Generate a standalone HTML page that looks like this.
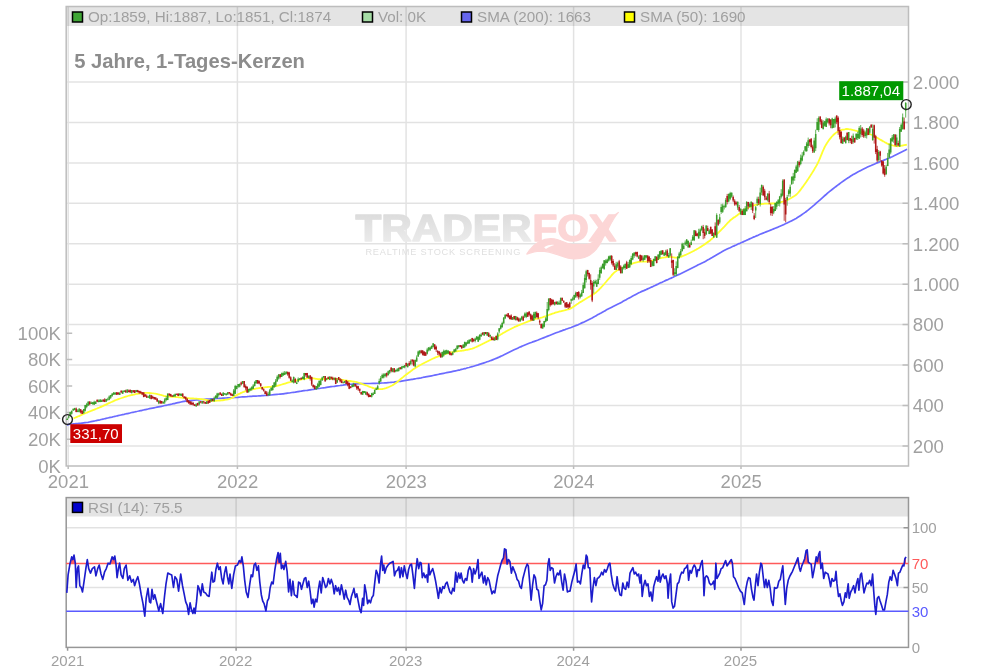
<!DOCTYPE html>
<html><head><meta charset="utf-8"><title>Chart</title>
<style>html,body{margin:0;padding:0;background:#fff;overflow:hidden}body{width:1002px;height:672px;font-family:"Liberation Sans",sans-serif}</style></head>
<body>
<svg width="1002" height="672" viewBox="0 0 1002 672" style="display:block;font-family:'Liberation Sans',sans-serif;filter:blur(0.3px)">
<rect width="1002" height="672" fill="#fff"/>
<rect x="66.2" y="6.5" width="842.3" height="19.5" fill="#e4e4e4"/>
<path d="M68.2,6.5 V466.0 M237.4,6.5 V466.0 M406.1,6.5 V466.0 M573.6,6.5 V466.0 M741.0,6.5 V466.0 M66.2,82.0 H908.5 M66.2,122.4 H908.5 M66.2,162.9 H908.5 M66.2,203.3 H908.5 M66.2,243.8 H908.5 M66.2,284.2 H908.5 M66.2,324.6 H908.5 M66.2,365.1 H908.5 M66.2,405.5 H908.5 M66.2,446.0 H908.5" stroke="#000" stroke-opacity="0.115" stroke-width="1.5" fill="none"/>
<defs><linearGradient id="wg" x1="0" y1="0" x2="0" y2="1"><stop offset="0" stop-color="#d9d9d9"/><stop offset="1" stop-color="#efefef"/></linearGradient></defs>
<g font-weight="bold">
<text x="355.5" y="241.3" font-size="37" textLength="176" lengthAdjust="spacingAndGlyphs" fill="url(#wg)" stroke="url(#wg)" stroke-width="1.4" stroke-linejoin="round">TRADER</text>
<text x="532.5" y="241.3" font-size="37" textLength="83.5" lengthAdjust="spacingAndGlyphs" fill="#fcd6d6" stroke="#fcd6d6" stroke-width="1.4" stroke-linejoin="round">FOX</text>
<g transform="translate(510,205) scale(0.11976)" fill="#fcd6d6" stroke="#fcd6d6" stroke-width="10" stroke-linejoin="round">
<path d="M140,410 C190,330 280,255 400,290 C440,302 470,325 520,328 L640,328 C690,325 730,290 770,230 L800,185 C830,130 860,85 905,62 C870,100 850,140 820,200 L780,270 C740,360 680,450 540,450 C440,450 380,385 250,385 C210,387 170,400 140,410 Z"/>
<path d="M285,352 C320,333 345,328 370,334 C345,343 320,352 300,368 Z" fill="#fff" stroke="none"/>
</g>
<text x="365.4" y="255.3" font-size="9.2" font-weight="normal" textLength="155" lengthAdjust="spacing" fill="#e0e0e0">REALTIME STOCK SCREENING</text>
</g>

<path d="M902.5,82.0 H908.5 M902.5,122.4 H908.5 M902.5,162.9 H908.5 M902.5,203.3 H908.5 M902.5,243.8 H908.5 M902.5,284.2 H908.5 M902.5,324.6 H908.5 M902.5,365.1 H908.5 M902.5,405.5 H908.5 M902.5,446.0 H908.5 M66.2,333.2 H72.2 M66.2,359.6 H72.2 M66.2,386.0 H72.2 M66.2,412.5 H72.2 M66.2,439.2 H72.2 M68.2,466.0 V469.0 M237.4,466.0 V469.0 M406.1,466.0 V469.0 M573.6,466.0 V469.0 M741.0,466.0 V469.0" stroke="#bdbdbd" stroke-width="1.5" fill="none"/>
<rect x="66.2" y="6.5" width="842.3" height="459.5" fill="none" stroke="#bdbdbd" stroke-width="1.5"/>
<path d="M67.0,425.1 C67.5,424.9 69.0,424.3 70.0,424.1 C71.0,423.9 72.0,423.9 73.0,423.9 C74.0,423.8 75.0,423.7 76.0,423.6 C77.0,423.5 78.0,423.5 79.0,423.4 C80.0,423.3 81.0,423.2 82.0,423.1 C83.0,423.0 84.0,422.9 85.0,422.7 C86.0,422.6 87.0,422.4 88.0,422.3 C89.0,422.1 90.0,421.9 91.0,421.7 C92.0,421.5 93.0,421.3 94.0,421.1 C95.0,420.9 96.0,420.6 97.0,420.4 C98.0,420.2 99.0,420.0 100.0,419.8 C101.0,419.5 102.0,419.3 103.0,419.1 C104.0,418.9 105.0,418.6 106.0,418.4 C107.0,418.2 108.0,418.0 109.0,417.7 C110.0,417.5 111.0,417.3 112.0,417.1 C113.0,416.8 114.0,416.6 115.0,416.4 C116.0,416.2 117.0,415.9 118.0,415.7 C119.0,415.5 120.0,415.3 121.0,415.0 C122.0,414.8 123.0,414.6 124.0,414.4 C125.0,414.1 126.0,413.9 127.0,413.7 C128.0,413.5 129.0,413.2 130.0,413.0 C131.0,412.8 132.0,412.6 133.0,412.3 C134.0,412.1 135.0,411.9 136.0,411.7 C137.0,411.4 138.0,411.2 139.0,411.0 C140.0,410.8 141.0,410.5 142.0,410.3 C143.0,410.1 144.0,409.9 145.0,409.7 C146.0,409.5 147.0,409.2 148.0,409.0 C149.0,408.8 150.0,408.6 151.0,408.4 C152.0,408.2 153.0,408.0 154.0,407.8 C155.0,407.6 156.0,407.4 157.0,407.2 C158.0,407.0 159.0,406.8 160.0,406.6 C161.0,406.4 162.0,406.2 163.0,406.0 C164.0,405.8 165.0,405.6 166.0,405.3 C167.0,405.1 168.0,404.9 169.0,404.7 C170.0,404.5 171.0,404.2 172.0,404.0 C173.0,403.8 174.0,403.5 175.0,403.3 C176.0,403.1 177.0,402.9 178.0,402.6 C179.0,402.4 180.0,402.2 181.0,402.0 C182.0,401.8 183.0,401.6 184.0,401.4 C185.0,401.3 186.0,401.1 187.0,401.0 C188.0,400.8 189.0,400.7 190.0,400.6 C191.0,400.5 192.0,400.4 193.0,400.3 C194.0,400.2 195.0,400.1 196.0,400.0 C197.0,399.9 198.0,399.9 199.0,399.8 C200.0,399.7 201.0,399.6 202.0,399.5 C203.0,399.5 204.0,399.4 205.0,399.3 C206.0,399.2 207.0,399.2 208.0,399.1 C209.0,399.0 210.0,399.0 211.0,398.9 C212.0,398.8 213.0,398.7 214.0,398.7 C215.0,398.6 216.0,398.5 217.0,398.5 C218.0,398.4 219.0,398.4 220.0,398.3 C221.0,398.3 222.0,398.2 223.0,398.1 C224.0,398.1 225.0,398.1 226.0,398.0 C227.0,398.0 228.0,397.9 229.0,397.9 C230.0,397.8 231.0,397.7 232.0,397.7 C233.0,397.6 234.0,397.5 235.0,397.5 C236.0,397.4 237.0,397.3 238.0,397.3 C239.0,397.2 240.0,397.1 241.0,397.0 C242.0,396.9 243.0,396.9 244.0,396.8 C245.0,396.7 246.0,396.6 247.0,396.6 C248.0,396.5 249.0,396.5 250.0,396.4 C251.0,396.3 252.0,396.3 253.0,396.2 C254.0,396.2 255.0,396.1 256.0,396.1 C257.0,396.0 258.0,396.0 259.0,395.9 C260.0,395.8 261.0,395.8 262.0,395.7 C263.0,395.7 264.0,395.6 265.0,395.5 C266.0,395.5 267.0,395.4 268.0,395.3 C269.0,395.2 270.0,395.1 271.0,395.0 C272.0,394.9 273.0,394.8 274.0,394.7 C275.0,394.6 276.0,394.5 277.0,394.4 C278.0,394.3 279.0,394.2 280.0,394.1 C281.0,394.0 282.0,393.9 283.0,393.8 C284.0,393.7 285.0,393.5 286.0,393.4 C287.0,393.3 288.0,393.1 289.0,393.0 C290.0,392.8 291.0,392.7 292.0,392.5 C293.0,392.4 294.0,392.2 295.0,392.1 C296.0,391.9 297.0,391.8 298.0,391.6 C299.0,391.5 300.0,391.3 301.0,391.2 C302.0,391.0 303.0,390.9 304.0,390.7 C305.0,390.6 306.0,390.4 307.0,390.3 C308.0,390.1 309.0,390.0 310.0,389.8 C311.0,389.7 312.0,389.5 313.0,389.4 C314.0,389.2 315.0,389.1 316.0,388.9 C317.0,388.8 318.0,388.6 319.0,388.5 C320.0,388.3 321.0,388.2 322.0,388.0 C323.0,387.9 324.0,387.7 325.0,387.6 C326.0,387.4 327.0,387.3 328.0,387.1 C329.0,387.0 330.0,386.9 331.0,386.7 C332.0,386.6 333.0,386.4 334.0,386.3 C335.0,386.1 336.0,386.0 337.0,385.8 C338.0,385.7 339.0,385.6 340.0,385.5 C341.0,385.3 342.0,385.2 343.0,385.1 C344.0,384.9 345.0,384.8 346.0,384.7 C347.0,384.6 348.0,384.5 349.0,384.4 C350.0,384.3 351.0,384.1 352.0,384.1 C353.0,384.0 354.0,383.9 355.0,383.8 C356.0,383.7 357.0,383.7 358.0,383.7 C359.0,383.6 360.0,383.6 361.0,383.6 C362.0,383.6 363.0,383.5 364.0,383.5 C365.0,383.5 366.0,383.5 367.0,383.5 C368.0,383.5 369.0,383.5 370.0,383.5 C371.0,383.5 372.0,383.5 373.0,383.4 C374.0,383.4 375.0,383.4 376.0,383.3 C377.0,383.3 378.0,383.2 379.0,383.2 C380.0,383.1 381.0,383.1 382.0,383.0 C383.0,383.0 384.0,382.9 385.0,382.8 C386.0,382.8 387.0,382.7 388.0,382.6 C389.0,382.5 390.0,382.5 391.0,382.4 C392.0,382.3 393.0,382.2 394.0,382.1 C395.0,381.9 396.0,381.8 397.0,381.7 C398.0,381.6 399.0,381.4 400.0,381.3 C401.0,381.1 402.0,381.0 403.0,380.8 C404.0,380.7 405.0,380.5 406.0,380.3 C407.0,380.2 408.0,380.0 409.0,379.8 C410.0,379.7 411.0,379.5 412.0,379.3 C413.0,379.1 414.0,379.0 415.0,378.8 C416.0,378.6 417.0,378.5 418.1,378.3 C419.1,378.1 420.1,377.9 421.1,377.8 C422.1,377.6 423.1,377.4 424.1,377.2 C425.1,377.0 426.1,376.9 427.1,376.7 C428.1,376.5 429.1,376.3 430.1,376.1 C431.1,375.9 432.1,375.7 433.1,375.5 C434.1,375.3 435.1,375.1 436.1,374.9 C437.1,374.7 438.1,374.5 439.1,374.2 C440.1,374.0 441.1,373.8 442.1,373.6 C443.1,373.4 444.1,373.2 445.1,373.0 C446.1,372.8 447.1,372.6 448.1,372.4 C449.1,372.2 450.1,372.0 451.1,371.8 C452.1,371.6 453.1,371.4 454.1,371.1 C455.1,370.9 456.1,370.7 457.1,370.5 C458.1,370.3 459.1,370.0 460.1,369.8 C461.1,369.5 462.1,369.3 463.1,369.0 C464.1,368.8 465.1,368.5 466.1,368.3 C467.1,368.0 468.1,367.7 469.1,367.5 C470.1,367.2 471.1,366.9 472.1,366.6 C473.1,366.3 474.1,366.1 475.1,365.8 C476.1,365.5 477.1,365.2 478.1,364.9 C479.1,364.5 480.1,364.2 481.1,363.9 C482.1,363.6 483.1,363.2 484.1,362.9 C485.1,362.6 486.1,362.2 487.1,361.8 C488.1,361.5 489.1,361.1 490.1,360.7 C491.1,360.4 492.1,360.0 493.1,359.6 C494.1,359.2 495.1,358.8 496.1,358.4 C497.1,357.9 498.1,357.5 499.1,357.1 C500.1,356.6 501.1,356.2 502.1,355.7 C503.1,355.2 504.1,354.8 505.1,354.3 C506.1,353.8 507.1,353.3 508.1,352.8 C509.1,352.3 510.1,351.8 511.1,351.3 C512.1,350.8 513.1,350.3 514.1,349.8 C515.1,349.4 516.1,348.9 517.1,348.4 C518.1,347.9 519.1,347.5 520.1,347.0 C521.1,346.6 522.1,346.1 523.1,345.7 C524.1,345.3 525.1,344.9 526.1,344.5 C527.1,344.1 528.1,343.7 529.1,343.3 C530.1,342.9 531.1,342.6 532.1,342.2 C533.1,341.8 534.1,341.5 535.1,341.1 C536.1,340.7 537.1,340.3 538.1,340.0 C539.1,339.6 540.1,339.2 541.1,338.8 C542.1,338.4 543.1,338.0 544.1,337.6 C545.1,337.2 546.1,336.8 547.1,336.4 C548.1,336.0 549.1,335.6 550.1,335.2 C551.1,334.8 552.1,334.4 553.1,334.0 C554.1,333.6 555.1,333.2 556.1,332.8 C557.1,332.4 558.1,332.0 559.1,331.7 C560.1,331.3 561.1,330.9 562.1,330.6 C563.1,330.2 564.1,329.9 565.1,329.6 C566.1,329.2 567.1,328.9 568.1,328.5 C569.1,328.2 570.1,327.8 571.1,327.5 C572.1,327.1 573.1,326.7 574.1,326.3 C575.1,325.9 576.1,325.5 577.1,325.1 C578.1,324.7 579.1,324.2 580.1,323.8 C581.1,323.3 582.1,322.8 583.1,322.4 C584.1,321.9 585.1,321.4 586.1,320.9 C587.1,320.4 588.1,319.9 589.1,319.4 C590.1,318.9 591.1,318.4 592.1,317.9 C593.1,317.3 594.1,316.8 595.1,316.3 C596.1,315.7 597.1,315.2 598.1,314.6 C599.1,314.1 600.1,313.5 601.1,313.0 C602.1,312.4 603.1,311.8 604.1,311.3 C605.1,310.7 606.1,310.2 607.1,309.6 C608.1,309.1 609.1,308.6 610.1,308.1 C611.1,307.5 612.1,307.0 613.1,306.5 C614.1,306.0 615.1,305.5 616.1,305.0 C617.1,304.5 618.1,304.0 619.1,303.5 C620.1,302.9 621.1,302.4 622.1,301.9 C623.1,301.3 624.1,300.8 625.1,300.2 C626.1,299.7 627.1,299.1 628.1,298.6 C629.1,298.0 630.1,297.4 631.1,296.9 C632.1,296.3 633.1,295.8 634.1,295.3 C635.1,294.7 636.1,294.2 637.1,293.7 C638.1,293.2 639.1,292.7 640.1,292.3 C641.1,291.8 642.1,291.3 643.1,290.9 C644.1,290.4 645.1,290.0 646.1,289.6 C647.1,289.1 648.1,288.7 649.1,288.2 C650.1,287.8 651.1,287.3 652.1,286.9 C653.1,286.4 654.1,285.9 655.1,285.5 C656.1,285.0 657.1,284.5 658.1,284.1 C659.1,283.6 660.1,283.1 661.1,282.6 C662.1,282.2 663.1,281.7 664.1,281.3 C665.1,280.8 666.1,280.3 667.1,279.9 C668.1,279.4 669.1,279.0 670.1,278.5 C671.1,278.1 672.1,277.6 673.1,277.2 C674.1,276.7 675.1,276.2 676.1,275.8 C677.1,275.3 678.1,274.8 679.1,274.4 C680.1,273.9 681.1,273.4 682.1,272.9 C683.1,272.4 684.1,271.9 685.1,271.4 C686.1,270.9 687.1,270.4 688.1,269.9 C689.1,269.4 690.1,268.9 691.1,268.4 C692.1,267.9 693.1,267.4 694.1,266.9 C695.1,266.4 696.1,265.9 697.1,265.4 C698.1,265.0 699.1,264.5 700.1,264.0 C701.1,263.5 702.1,263.0 703.1,262.5 C704.1,261.9 705.1,261.4 706.1,260.9 C707.1,260.4 708.1,259.8 709.1,259.3 C710.1,258.7 711.1,258.1 712.1,257.5 C713.1,256.9 714.1,256.3 715.1,255.7 C716.1,255.1 717.1,254.5 718.1,253.9 C719.1,253.3 720.1,252.7 721.1,252.2 C722.1,251.6 723.1,251.1 724.1,250.6 C725.1,250.1 726.1,249.6 727.1,249.1 C728.1,248.6 729.1,248.1 730.1,247.7 C731.1,247.2 732.1,246.8 733.1,246.3 C734.1,245.9 735.1,245.4 736.1,245.0 C737.1,244.5 738.1,244.1 739.1,243.6 C740.1,243.2 741.1,242.7 742.1,242.3 C743.1,241.8 744.1,241.4 745.1,240.9 C746.1,240.5 747.1,240.0 748.1,239.6 C749.1,239.1 750.1,238.7 751.1,238.2 C752.1,237.8 753.1,237.3 754.1,236.9 C755.1,236.5 756.1,236.0 757.1,235.6 C758.1,235.2 759.1,234.7 760.1,234.3 C761.1,233.9 762.1,233.5 763.1,233.1 C764.1,232.7 765.1,232.3 766.1,231.9 C767.1,231.5 768.1,231.1 769.1,230.7 C770.1,230.3 771.1,229.9 772.1,229.5 C773.1,229.1 774.1,228.7 775.1,228.3 C776.1,227.9 777.1,227.5 778.1,227.1 C779.1,226.6 780.1,226.2 781.1,225.8 C782.1,225.4 783.1,225.0 784.1,224.5 C785.1,224.1 786.1,223.6 787.1,223.1 C788.1,222.6 789.1,222.1 790.1,221.6 C791.1,221.1 792.1,220.6 793.1,220.0 C794.1,219.5 795.1,218.9 796.1,218.4 C797.1,217.8 798.1,217.2 799.1,216.5 C800.1,215.9 801.1,215.2 802.1,214.5 C803.1,213.9 804.1,213.1 805.1,212.4 C806.1,211.6 807.1,210.9 808.1,210.1 C809.1,209.3 810.1,208.5 811.1,207.6 C812.1,206.8 813.1,205.9 814.1,205.1 C815.1,204.2 816.1,203.3 817.1,202.4 C818.1,201.5 819.1,200.7 820.1,199.8 C821.1,198.9 822.1,198.0 823.1,197.1 C824.1,196.2 825.1,195.3 826.1,194.5 C827.1,193.6 828.1,192.7 829.1,191.9 C830.1,191.1 831.1,190.3 832.1,189.5 C833.1,188.7 834.1,187.9 835.1,187.1 C836.1,186.3 837.1,185.6 838.1,184.8 C839.1,184.1 840.1,183.3 841.1,182.6 C842.1,181.9 843.1,181.2 844.1,180.5 C845.1,179.8 846.1,179.1 847.1,178.4 C848.1,177.8 849.1,177.1 850.1,176.5 C851.1,175.9 852.1,175.2 853.1,174.6 C854.1,174.1 855.1,173.5 856.1,172.9 C857.1,172.3 858.1,171.8 859.1,171.3 C860.1,170.7 861.1,170.2 862.1,169.7 C863.1,169.2 864.1,168.7 865.1,168.2 C866.1,167.7 867.1,167.3 868.1,166.8 C869.1,166.3 870.1,165.9 871.1,165.5 C872.1,165.0 873.1,164.6 874.1,164.2 C875.1,163.8 876.1,163.3 877.1,162.9 C878.1,162.5 879.1,162.1 880.1,161.7 C881.1,161.3 882.1,160.9 883.1,160.5 C884.1,160.1 885.1,159.7 886.1,159.3 C887.1,158.8 888.1,158.4 889.1,158.0 C890.1,157.6 891.1,157.1 892.1,156.7 C893.1,156.2 894.1,155.8 895.1,155.3 C896.1,154.8 897.1,154.3 898.1,153.8 C899.1,153.4 900.1,152.9 901.1,152.3 C902.1,151.8 903.1,151.3 904.1,150.8 C905.1,150.3 906.6,149.5 907.1,149.3" stroke="#6b6bff" stroke-width="1.7" fill="none" stroke-linejoin="round"/>
<path d="M73.5,418.4 C73.8,418.3 74.8,417.8 75.5,417.5 C76.2,417.2 76.8,417.0 77.5,416.7 C78.2,416.4 78.8,416.1 79.5,415.8 C80.2,415.5 80.8,415.2 81.5,414.9 C82.2,414.6 82.8,414.3 83.5,414.0 C84.2,413.7 84.8,413.4 85.5,413.2 C86.2,412.9 86.8,412.6 87.5,412.3 C88.2,412.0 88.8,411.8 89.5,411.5 C90.2,411.2 90.9,411.0 91.5,410.7 C92.2,410.4 92.9,410.2 93.5,409.9 C94.2,409.6 94.9,409.4 95.5,409.1 C96.2,408.8 96.9,408.6 97.5,408.3 C98.2,408.0 98.9,407.8 99.5,407.5 C100.2,407.2 100.9,406.9 101.5,406.6 C102.2,406.3 102.9,406.0 103.5,405.7 C104.2,405.4 104.9,405.1 105.5,404.8 C106.2,404.5 106.9,404.2 107.5,403.9 C108.2,403.5 108.9,403.2 109.6,402.9 C110.2,402.6 110.9,402.3 111.6,402.0 C112.2,401.7 112.9,401.4 113.6,401.1 C114.2,400.8 114.9,400.5 115.6,400.2 C116.2,399.9 116.9,399.7 117.6,399.4 C118.2,399.2 118.9,398.9 119.6,398.7 C120.2,398.4 120.9,398.2 121.6,398.0 C122.2,397.7 122.9,397.5 123.6,397.3 C124.2,397.1 124.9,396.9 125.6,396.6 C126.2,396.4 126.9,396.3 127.6,396.1 C128.2,395.9 128.9,395.7 129.6,395.5 C130.3,395.4 130.9,395.2 131.6,395.0 C132.3,394.9 132.9,394.7 133.6,394.6 C134.3,394.4 134.9,394.3 135.6,394.1 C136.3,394.0 136.9,393.9 137.6,393.8 C138.3,393.7 138.9,393.6 139.6,393.5 C140.3,393.4 140.9,393.4 141.6,393.3 C142.3,393.2 142.9,393.1 143.6,393.1 C144.3,393.0 144.9,393.0 145.6,392.9 C146.3,392.9 146.9,392.9 147.6,392.9 C148.3,393.0 148.9,393.0 149.6,393.0 C150.3,393.1 151.0,393.1 151.6,393.2 C152.3,393.2 153.0,393.3 153.6,393.4 C154.3,393.4 155.0,393.5 155.6,393.6 C156.3,393.7 157.0,393.9 157.6,394.1 C158.3,394.2 159.0,394.4 159.6,394.6 C160.3,394.8 161.0,395.0 161.6,395.2 C162.3,395.4 163.0,395.6 163.6,395.8 C164.3,395.9 165.0,396.1 165.6,396.2 C166.3,396.4 167.0,396.4 167.6,396.5 C168.3,396.6 169.0,396.6 169.7,396.7 C170.3,396.7 171.0,396.7 171.7,396.8 C172.3,396.8 173.0,396.9 173.7,396.9 C174.3,396.9 175.0,397.0 175.7,397.0 C176.3,397.1 177.0,397.1 177.7,397.2 C178.3,397.3 179.0,397.3 179.7,397.4 C180.3,397.5 181.0,397.6 181.7,397.6 C182.3,397.7 183.0,397.8 183.7,397.9 C184.3,397.9 185.0,398.0 185.7,398.1 C186.3,398.1 187.0,398.2 187.7,398.2 C188.3,398.2 189.0,398.3 189.7,398.3 C190.4,398.3 191.0,398.4 191.7,398.4 C192.4,398.4 193.0,398.4 193.7,398.5 C194.4,398.5 195.0,398.6 195.7,398.6 C196.4,398.7 197.0,398.7 197.7,398.8 C198.4,398.9 199.0,398.9 199.7,399.0 C200.4,399.1 201.0,399.1 201.7,399.2 C202.4,399.3 203.0,399.4 203.7,399.5 C204.4,399.6 205.0,399.7 205.7,399.8 C206.4,399.9 207.0,400.1 207.7,400.2 C208.4,400.3 209.0,400.5 209.7,400.6 C210.4,400.7 211.1,400.8 211.7,400.8 C212.4,400.9 213.1,400.9 213.7,400.9 C214.4,400.9 215.1,400.9 215.7,400.9 C216.4,400.8 217.1,400.7 217.7,400.7 C218.4,400.6 219.1,400.6 219.7,400.5 C220.4,400.4 221.1,400.3 221.7,400.3 C222.4,400.2 223.1,400.1 223.7,400.0 C224.4,399.9 225.1,399.8 225.7,399.7 C226.4,399.6 227.1,399.5 227.7,399.4 C228.4,399.2 229.1,399.1 229.8,398.9 C230.4,398.6 231.1,398.3 231.8,398.0 C232.4,397.7 233.1,397.3 233.8,396.9 C234.4,396.5 235.1,396.1 235.8,395.7 C236.4,395.3 237.1,394.9 237.8,394.6 C238.4,394.2 239.1,393.9 239.8,393.6 C240.4,393.3 241.1,393.0 241.8,392.7 C242.4,392.4 243.1,392.1 243.8,391.9 C244.4,391.6 245.1,391.3 245.8,391.1 C246.4,390.8 247.1,390.6 247.8,390.4 C248.4,390.2 249.1,390.0 249.8,389.9 C250.5,389.7 251.1,389.6 251.8,389.4 C252.5,389.3 253.1,389.1 253.8,389.0 C254.5,388.9 255.1,388.8 255.8,388.6 C256.5,388.5 257.1,388.4 257.8,388.3 C258.5,388.2 259.1,388.1 259.8,388.0 C260.5,387.9 261.1,387.8 261.8,387.7 C262.5,387.6 263.1,387.5 263.8,387.4 C264.5,387.3 265.1,387.3 265.8,387.2 C266.5,387.1 267.1,387.1 267.8,387.0 C268.5,387.0 269.1,386.9 269.8,386.9 C270.5,386.8 271.2,386.8 271.8,386.7 C272.5,386.7 273.2,386.6 273.8,386.5 C274.5,386.4 275.2,386.3 275.8,386.2 C276.5,386.0 277.2,385.9 277.8,385.7 C278.5,385.5 279.2,385.3 279.8,385.1 C280.5,384.9 281.2,384.7 281.8,384.5 C282.5,384.3 283.2,384.1 283.8,383.9 C284.5,383.7 285.2,383.5 285.8,383.3 C286.5,383.1 287.2,382.9 287.8,382.7 C288.5,382.5 289.2,382.3 289.9,382.1 C290.5,381.9 291.2,381.7 291.9,381.5 C292.5,381.4 293.2,381.2 293.9,381.0 C294.5,380.9 295.2,380.7 295.9,380.6 C296.5,380.5 297.2,380.3 297.9,380.2 C298.5,380.1 299.2,379.9 299.9,379.8 C300.5,379.7 301.2,379.5 301.9,379.4 C302.5,379.3 303.2,379.1 303.9,379.0 C304.5,378.9 305.2,378.7 305.9,378.6 C306.5,378.5 307.2,378.3 307.9,378.2 C308.5,378.1 309.2,378.0 309.9,378.0 C310.6,378.0 311.2,378.0 311.9,378.1 C312.6,378.1 313.2,378.3 313.9,378.4 C314.6,378.5 315.2,378.7 315.9,378.8 C316.6,378.9 317.2,379.1 317.9,379.1 C318.6,379.2 319.2,379.2 319.9,379.2 C320.6,379.2 321.2,379.1 321.9,379.1 C322.6,379.0 323.2,379.0 323.9,378.9 C324.6,378.9 325.2,378.8 325.9,378.8 C326.6,378.7 327.2,378.7 327.9,378.6 C328.6,378.6 329.2,378.6 329.9,378.6 C330.6,378.6 331.3,378.6 331.9,378.6 C332.6,378.7 333.3,378.7 333.9,378.7 C334.6,378.7 335.3,378.8 335.9,378.8 C336.6,378.9 337.3,378.9 337.9,379.0 C338.6,379.1 339.3,379.2 339.9,379.3 C340.6,379.4 341.3,379.6 341.9,379.7 C342.6,379.8 343.3,380.0 343.9,380.1 C344.6,380.2 345.3,380.3 345.9,380.5 C346.6,380.6 347.3,380.7 347.9,380.8 C348.6,380.9 349.3,380.9 350.0,381.0 C350.6,381.1 351.3,381.2 352.0,381.3 C352.6,381.4 353.3,381.5 354.0,381.6 C354.6,381.7 355.3,381.8 356.0,382.0 C356.6,382.1 357.3,382.3 358.0,382.5 C358.6,382.7 359.3,383.0 360.0,383.2 C360.6,383.4 361.3,383.6 362.0,383.9 C362.6,384.1 363.3,384.3 364.0,384.6 C364.6,384.8 365.3,385.1 366.0,385.3 C366.6,385.6 367.3,385.8 368.0,386.1 C368.6,386.4 369.3,386.6 370.0,386.9 C370.7,387.1 371.3,387.4 372.0,387.6 C372.7,387.9 373.3,388.1 374.0,388.3 C374.7,388.5 375.3,388.6 376.0,388.7 C376.7,388.9 377.3,389.0 378.0,389.1 C378.7,389.2 379.3,389.2 380.0,389.2 C380.7,389.2 381.3,389.2 382.0,389.1 C382.7,389.0 383.3,388.8 384.0,388.7 C384.7,388.5 385.3,388.3 386.0,388.1 C386.7,387.8 387.3,387.6 388.0,387.3 C388.7,387.1 389.4,386.8 390.0,386.5 C390.7,386.2 391.4,385.8 392.0,385.5 C392.7,385.1 393.4,384.8 394.0,384.3 C394.7,383.9 395.4,383.5 396.0,383.0 C396.7,382.5 397.4,381.9 398.0,381.3 C398.7,380.8 399.4,380.2 400.0,379.6 C400.7,379.1 401.4,378.5 402.0,378.0 C402.7,377.4 403.4,376.9 404.0,376.3 C404.7,375.8 405.4,375.3 406.0,374.7 C406.7,374.2 407.4,373.7 408.0,373.2 C408.7,372.7 409.4,372.2 410.1,371.7 C410.7,371.2 411.4,370.7 412.1,370.2 C412.7,369.8 413.4,369.3 414.1,368.8 C414.7,368.4 415.4,367.9 416.1,367.5 C416.7,367.0 417.4,366.6 418.1,366.2 C418.7,365.8 419.4,365.4 420.1,365.1 C420.7,364.7 421.4,364.4 422.1,364.0 C422.7,363.7 423.4,363.4 424.1,363.0 C424.7,362.7 425.4,362.4 426.1,362.0 C426.7,361.7 427.4,361.4 428.1,361.0 C428.7,360.7 429.4,360.4 430.1,360.0 C430.8,359.7 431.4,359.4 432.1,359.0 C432.8,358.7 433.4,358.4 434.1,358.1 C434.8,357.8 435.4,357.5 436.1,357.2 C436.8,356.9 437.4,356.7 438.1,356.4 C438.8,356.2 439.4,355.9 440.1,355.7 C440.8,355.5 441.4,355.3 442.1,355.0 C442.8,354.8 443.4,354.6 444.1,354.4 C444.8,354.2 445.4,354.0 446.1,353.8 C446.8,353.6 447.4,353.4 448.1,353.2 C448.8,353.1 449.5,352.9 450.1,352.7 C450.8,352.5 451.5,352.4 452.1,352.2 C452.8,352.1 453.5,351.9 454.1,351.8 C454.8,351.7 455.5,351.5 456.1,351.4 C456.8,351.3 457.5,351.2 458.1,351.1 C458.8,351.0 459.5,350.9 460.1,350.9 C460.8,350.8 461.5,350.7 462.1,350.6 C462.8,350.5 463.5,350.4 464.1,350.3 C464.8,350.2 465.5,350.1 466.1,349.9 C466.8,349.8 467.5,349.7 468.1,349.6 C468.8,349.5 469.5,349.4 470.2,349.2 C470.8,349.1 471.5,348.9 472.2,348.7 C472.8,348.5 473.5,348.2 474.2,347.9 C474.8,347.6 475.5,347.3 476.2,347.0 C476.8,346.7 477.5,346.4 478.2,346.1 C478.8,345.7 479.5,345.4 480.2,345.1 C480.8,344.8 481.5,344.4 482.2,344.1 C482.8,343.8 483.5,343.4 484.2,343.1 C484.8,342.8 485.5,342.4 486.2,342.1 C486.8,341.8 487.5,341.4 488.2,341.1 C488.8,340.8 489.5,340.4 490.2,340.1 C490.9,339.8 491.5,339.4 492.2,339.1 C492.9,338.8 493.5,338.4 494.2,338.1 C494.9,337.8 495.5,337.4 496.2,337.1 C496.9,336.7 497.5,336.4 498.2,336.0 C498.9,335.6 499.5,335.2 500.2,334.9 C500.9,334.5 501.5,334.1 502.2,333.7 C502.9,333.3 503.5,332.9 504.2,332.5 C504.9,332.1 505.5,331.7 506.2,331.3 C506.9,331.0 507.5,330.6 508.2,330.2 C508.9,329.9 509.6,329.5 510.2,329.2 C510.9,328.9 511.6,328.5 512.2,328.2 C512.9,327.9 513.6,327.5 514.2,327.2 C514.9,326.9 515.6,326.6 516.2,326.3 C516.9,326.0 517.6,325.7 518.2,325.4 C518.9,325.2 519.6,324.9 520.2,324.6 C520.9,324.4 521.6,324.1 522.2,323.8 C522.9,323.6 523.6,323.3 524.2,323.0 C524.9,322.8 525.6,322.5 526.2,322.2 C526.9,321.9 527.6,321.7 528.2,321.4 C528.9,321.2 529.6,320.9 530.3,320.6 C530.9,320.4 531.6,320.1 532.3,319.9 C532.9,319.6 533.6,319.4 534.3,319.2 C534.9,319.0 535.6,318.9 536.3,318.7 C536.9,318.6 537.6,318.4 538.3,318.3 C538.9,318.1 539.6,318.0 540.3,317.9 C540.9,317.7 541.6,317.5 542.3,317.4 C542.9,317.2 543.6,317.0 544.3,316.7 C544.9,316.5 545.6,316.2 546.3,316.0 C546.9,315.7 547.6,315.5 548.3,315.2 C548.9,314.9 549.6,314.7 550.3,314.4 C551.0,314.2 551.6,313.9 552.3,313.7 C553.0,313.5 553.6,313.3 554.3,313.1 C555.0,312.8 555.6,312.6 556.3,312.4 C557.0,312.2 557.6,312.0 558.3,311.8 C559.0,311.7 559.6,311.5 560.3,311.3 C561.0,311.1 561.6,311.0 562.3,310.8 C563.0,310.7 563.6,310.5 564.3,310.4 C565.0,310.2 565.6,310.1 566.3,309.9 C567.0,309.8 567.6,309.6 568.3,309.4 C569.0,309.2 569.7,308.9 570.3,308.6 C571.0,308.3 571.7,307.9 572.3,307.5 C573.0,307.0 573.7,306.6 574.3,306.1 C575.0,305.7 575.7,305.2 576.3,304.7 C577.0,304.3 577.7,303.8 578.3,303.4 C579.0,302.9 579.7,302.5 580.3,302.1 C581.0,301.7 581.7,301.3 582.3,300.9 C583.0,300.5 583.7,300.1 584.3,299.7 C585.0,299.3 585.7,298.9 586.3,298.5 C587.0,298.1 587.7,297.7 588.3,297.3 C589.0,296.9 589.7,296.5 590.4,296.1 C591.0,295.7 591.7,295.3 592.4,294.8 C593.0,294.4 593.7,294.0 594.4,293.6 C595.0,293.1 595.7,292.7 596.4,292.1 C597.0,291.6 597.7,290.9 598.4,290.3 C599.0,289.6 599.7,288.9 600.4,288.2 C601.0,287.5 601.7,286.8 602.4,286.0 C603.0,285.3 603.7,284.5 604.4,283.8 C605.0,283.0 605.7,282.3 606.4,281.5 C607.0,280.7 607.7,279.9 608.4,279.1 C609.0,278.4 609.7,277.5 610.4,276.8 C611.1,276.0 611.7,275.2 612.4,274.5 C613.1,273.7 613.7,273.0 614.4,272.4 C615.1,271.9 615.7,271.4 616.4,270.9 C617.1,270.5 617.7,270.1 618.4,269.7 C619.1,269.4 619.7,269.1 620.4,268.7 C621.1,268.4 621.7,268.1 622.4,267.7 C623.1,267.4 623.7,267.1 624.4,266.8 C625.1,266.5 625.7,266.3 626.4,266.0 C627.1,265.7 627.7,265.4 628.4,265.2 C629.1,264.9 629.8,264.6 630.4,264.4 C631.1,264.1 631.8,263.9 632.4,263.6 C633.1,263.4 633.8,263.1 634.4,262.9 C635.1,262.7 635.8,262.5 636.4,262.3 C637.1,262.2 637.8,262.0 638.4,261.9 C639.1,261.8 639.8,261.8 640.4,261.7 C641.1,261.7 641.8,261.7 642.4,261.7 C643.1,261.7 643.8,261.6 644.4,261.6 C645.1,261.6 645.8,261.5 646.4,261.5 C647.1,261.4 647.8,261.3 648.4,261.3 C649.1,261.2 649.8,261.1 650.5,261.0 C651.1,260.9 651.8,260.7 652.5,260.6 C653.1,260.4 653.8,260.2 654.5,260.0 C655.1,259.8 655.8,259.5 656.5,259.3 C657.1,259.1 657.8,258.8 658.5,258.6 C659.1,258.4 659.8,258.2 660.5,258.1 C661.1,257.9 661.8,257.8 662.5,257.6 C663.1,257.5 663.8,257.4 664.5,257.3 C665.1,257.2 665.8,257.1 666.5,257.0 C667.1,256.9 667.8,256.9 668.5,256.9 C669.2,256.9 669.8,256.9 670.5,256.9 C671.2,257.0 671.8,257.1 672.5,257.2 C673.2,257.3 673.8,257.4 674.5,257.5 C675.2,257.5 675.8,257.6 676.5,257.6 C677.2,257.6 677.8,257.5 678.5,257.4 C679.2,257.3 679.8,257.1 680.5,256.9 C681.2,256.7 681.8,256.4 682.5,256.1 C683.2,255.9 683.8,255.6 684.5,255.3 C685.2,255.0 685.8,254.8 686.5,254.5 C687.2,254.2 687.8,253.8 688.5,253.5 C689.2,253.2 689.9,252.9 690.5,252.5 C691.2,252.2 691.9,251.9 692.5,251.5 C693.2,251.2 693.9,250.9 694.5,250.5 C695.2,250.1 695.9,249.8 696.5,249.4 C697.2,249.0 697.9,248.6 698.5,248.3 C699.2,247.9 699.9,247.5 700.5,247.1 C701.2,246.7 701.9,246.3 702.5,245.8 C703.2,245.4 703.9,245.0 704.5,244.5 C705.2,244.0 705.9,243.5 706.5,243.0 C707.2,242.5 707.9,242.0 708.5,241.5 C709.2,240.9 709.9,240.4 710.6,239.9 C711.2,239.3 711.9,238.8 712.6,238.2 C713.2,237.6 713.9,237.0 714.6,236.4 C715.2,235.8 715.9,235.1 716.6,234.5 C717.2,233.8 717.9,233.2 718.6,232.5 C719.2,231.8 719.9,231.2 720.6,230.5 C721.2,229.8 721.9,229.1 722.6,228.4 C723.2,227.7 723.9,227.0 724.6,226.3 C725.2,225.6 725.9,224.8 726.6,224.1 C727.2,223.4 727.9,222.6 728.6,222.0 C729.3,221.3 729.9,220.6 730.6,220.0 C731.3,219.4 731.9,218.9 732.6,218.4 C733.3,217.9 733.9,217.5 734.6,217.1 C735.3,216.6 735.9,216.2 736.6,215.7 C737.3,215.2 737.9,214.7 738.6,214.2 C739.3,213.7 739.9,213.1 740.6,212.6 C741.3,212.1 741.9,211.5 742.6,211.0 C743.3,210.5 743.9,210.1 744.6,209.6 C745.3,209.2 745.9,208.8 746.6,208.4 C747.3,208.1 747.9,207.8 748.6,207.5 C749.3,207.2 750.0,206.9 750.6,206.7 C751.3,206.4 752.0,206.1 752.6,205.9 C753.3,205.6 754.0,205.4 754.6,205.2 C755.3,205.0 756.0,204.8 756.6,204.7 C757.3,204.5 758.0,204.4 758.6,204.3 C759.3,204.2 760.0,204.2 760.6,204.1 C761.3,204.0 762.0,204.0 762.6,203.9 C763.3,203.8 764.0,203.8 764.6,203.7 C765.3,203.7 766.0,203.6 766.6,203.6 C767.3,203.6 768.0,203.6 768.6,203.6 C769.3,203.5 770.0,203.5 770.7,203.5 C771.3,203.5 772.0,203.5 772.7,203.5 C773.3,203.5 774.0,203.5 774.7,203.5 C775.3,203.4 776.0,203.4 776.7,203.3 C777.3,203.2 778.0,203.0 778.7,202.9 C779.3,202.7 780.0,202.5 780.7,202.3 C781.3,202.1 782.0,201.9 782.7,201.7 C783.3,201.5 784.0,201.3 784.7,201.1 C785.3,200.9 786.0,200.6 786.7,200.3 C787.3,200.0 788.0,199.7 788.7,199.4 C789.4,199.0 790.0,198.6 790.7,198.2 C791.4,197.9 792.0,197.5 792.7,197.0 C793.4,196.6 794.0,196.2 794.7,195.8 C795.4,195.3 796.0,194.8 796.7,194.2 C797.4,193.6 798.0,192.9 798.7,192.1 C799.4,191.4 800.0,190.5 800.7,189.6 C801.4,188.7 802.0,187.8 802.7,186.9 C803.4,185.9 804.0,185.0 804.7,184.1 C805.4,183.1 806.0,182.2 806.7,181.2 C807.4,180.2 808.0,179.2 808.7,178.2 C809.4,177.2 810.1,176.1 810.7,175.1 C811.4,174.0 812.1,173.0 812.7,171.9 C813.4,170.8 814.1,169.8 814.7,168.6 C815.4,167.5 816.1,166.4 816.7,165.2 C817.4,163.9 818.1,162.6 818.7,161.1 C819.4,159.7 820.1,158.0 820.7,156.4 C821.4,154.8 822.1,153.0 822.7,151.4 C823.4,149.9 824.1,148.3 824.7,147.0 C825.4,145.7 826.1,144.6 826.7,143.5 C827.4,142.4 828.1,141.5 828.7,140.6 C829.4,139.6 830.1,138.7 830.8,137.9 C831.4,137.1 832.1,136.2 832.8,135.6 C833.4,134.9 834.1,134.3 834.8,133.7 C835.4,133.2 836.1,132.7 836.8,132.3 C837.4,131.9 838.1,131.5 838.8,131.2 C839.4,130.9 840.1,130.6 840.8,130.3 C841.4,130.1 842.1,129.9 842.8,129.7 C843.4,129.6 844.1,129.4 844.8,129.3 C845.4,129.2 846.1,129.0 846.8,129.0 C847.4,129.0 848.1,129.0 848.8,129.1 C849.5,129.1 850.1,129.3 850.8,129.4 C851.5,129.5 852.1,129.7 852.8,129.9 C853.5,130.0 854.1,130.2 854.8,130.4 C855.5,130.5 856.1,130.7 856.8,130.9 C857.5,131.0 858.1,131.2 858.8,131.4 C859.5,131.5 860.1,131.7 860.8,131.9 C861.5,132.0 862.1,132.2 862.8,132.4 C863.5,132.5 864.1,132.7 864.8,132.9 C865.5,133.0 866.1,133.2 866.8,133.4 C867.5,133.5 868.1,133.7 868.8,133.9 C869.5,134.1 870.2,134.2 870.8,134.5 C871.5,134.7 872.2,135.0 872.8,135.3 C873.5,135.6 874.2,135.9 874.8,136.3 C875.5,136.7 876.2,137.1 876.8,137.5 C877.5,137.9 878.2,138.3 878.8,138.7 C879.5,139.1 880.2,139.5 880.8,139.9 C881.5,140.3 882.2,140.7 882.8,141.1 C883.5,141.5 884.2,141.8 884.8,142.2 C885.5,142.6 886.2,142.9 886.8,143.3 C887.5,143.6 888.2,143.9 888.8,144.2 C889.5,144.5 890.2,144.7 890.9,144.9 C891.5,145.1 892.2,145.3 892.9,145.5 C893.5,145.7 894.2,145.8 894.9,145.9 C895.5,146.1 896.2,146.2 896.9,146.2 C897.5,146.3 898.2,146.2 898.9,146.2 C899.5,146.1 900.2,146.0 900.9,145.9 C901.5,145.8 902.2,145.6 902.9,145.5 C903.5,145.3 904.2,145.2 904.9,145.0 C905.5,144.9 906.5,144.7 906.9,144.6" stroke="#ffff30" stroke-width="1.8" fill="none" stroke-linejoin="round"/>
<path d="M67.19,420.0 V417.7 M68.69,418.5 V414.7 M70.19,416.4 V411.8 M71.69,414.7 V410.3 M73.19,410.9 V408.6 M74.69,410.3 V407.8 M77.69,412.2 V409.2 M79.19,412.5 V408.1 M83.69,413.5 V408.9 M85.19,411.5 V404.9 M86.69,408.3 V402.9 M88.19,406.0 V401.2 M91.19,403.9 V401.5 M92.69,404.6 V401.9 M94.19,404.8 V400.7 M95.69,404.0 V401.5 M98.69,402.4 V399.4 M100.19,402.2 V399.3 M101.69,402.0 V399.5 M106.19,402.1 V398.8 M107.69,400.5 V397.7 M109.19,400.2 V395.4 M110.69,398.9 V394.9 M112.19,396.8 V393.4 M113.69,394.7 V392.1 M115.19,394.7 V392.2 M119.69,395.0 V391.9 M122.69,394.0 V390.4 M124.19,392.2 V390.1 M127.19,392.7 V389.4 M131.69,393.2 V390.1 M136.19,392.3 V389.9 M148.19,397.7 V395.7 M149.69,398.5 V394.8 M158.69,404.2 V400.4 M163.19,404.0 V401.1 M164.69,403.9 V398.2 M166.19,401.3 V396.1 M167.69,400.2 V393.6 M173.69,396.8 V394.4 M175.19,396.8 V393.8 M179.69,395.7 V393.6 M181.19,395.9 V393.6 M196.19,406.6 V403.1 M199.19,405.5 V401.2 M202.19,403.6 V401.1 M206.69,403.9 V400.9 M211.19,401.6 V398.7 M214.19,401.7 V396.5 M215.69,398.3 V395.2 M217.19,398.9 V392.8 M218.69,396.7 V392.8 M223.19,395.9 V392.1 M224.69,394.7 V393.1 M226.19,395.3 V393.1 M227.69,394.8 V392.1 M233.69,395.9 V389.0 M235.19,394.2 V384.9 M236.69,389.3 V385.6 M238.19,387.8 V384.0 M239.69,387.4 V383.4 M242.69,384.2 V381.0 M248.69,392.9 V388.7 M250.19,391.2 V387.6 M251.69,390.7 V386.3 M253.19,389.1 V384.1 M254.69,386.5 V381.4 M256.19,383.8 V380.1 M268.19,395.6 V391.8 M269.69,395.7 V388.9 M271.19,390.9 V387.3 M272.69,390.7 V385.0 M274.19,387.6 V382.0 M275.69,387.0 V379.0 M277.19,381.9 V375.3 M278.69,379.6 V374.0 M281.69,376.9 V372.6 M283.19,375.8 V371.6 M284.69,375.1 V371.0 M286.19,374.4 V371.0 M292.19,382.3 V379.3 M293.69,383.5 V376.5 M296.69,384.1 V381.4 M298.19,382.3 V377.4 M299.69,380.1 V378.2 M302.69,379.2 V376.2 M304.19,380.2 V372.9 M308.69,378.7 V375.2 M316.19,389.4 V386.1 M317.69,388.9 V382.8 M319.19,387.1 V380.6 M320.69,385.4 V379.2 M322.19,380.7 V376.6 M323.69,378.3 V376.0 M326.69,380.3 V378.0 M329.69,380.1 V376.5 M334.19,380.4 V377.7 M337.19,383.1 V378.1 M343.19,383.2 V381.3 M344.69,383.2 V380.9 M352.19,387.4 V384.1 M353.69,387.1 V382.8 M362.69,394.8 V390.8 M364.19,393.1 V391.0 M365.69,394.8 V391.5 M371.69,397.5 V392.8 M373.19,395.3 V392.1 M374.69,394.0 V389.4 M376.19,390.1 V387.4 M377.69,389.4 V384.7 M379.19,384.7 V378.7 M380.69,381.8 V376.1 M382.19,378.6 V373.6 M383.69,378.4 V373.3 M385.19,377.3 V373.4 M388.19,375.7 V370.5 M389.69,374.1 V369.8 M392.69,372.3 V368.0 M395.69,372.3 V369.5 M397.19,371.7 V368.1 M398.69,371.6 V367.5 M401.69,369.2 V366.3 M403.19,368.1 V365.8 M404.69,368.3 V365.0 M407.69,367.3 V363.2 M410.69,365.1 V359.5 M415.19,367.3 V359.5 M416.69,361.9 V355.4 M418.19,356.9 V350.6 M419.69,354.8 V350.1 M427.19,354.5 V347.8 M428.69,351.5 V347.0 M430.19,351.0 V346.5 M431.69,348.8 V345.3 M433.19,347.5 V343.2 M442.19,357.5 V351.6 M443.69,356.7 V349.6 M445.19,354.5 V349.9 M446.69,354.2 V349.7 M448.19,354.2 V350.1 M452.69,355.3 V351.6 M454.19,352.6 V348.9 M455.69,351.6 V347.9 M457.19,349.5 V345.0 M458.69,348.5 V345.0 M463.19,348.1 V344.0 M464.69,348.1 V341.6 M466.19,346.3 V341.8 M467.69,344.2 V340.0 M469.19,343.5 V339.4 M470.69,341.6 V338.9 M475.19,342.4 V337.6 M476.69,339.8 V336.1 M478.19,341.8 V335.8 M479.69,340.3 V334.3 M481.19,336.9 V332.9 M484.19,335.8 V332.1 M487.19,336.0 V332.1 M490.19,338.2 V334.5 M494.69,340.5 V337.5 M497.69,340.3 V332.3 M499.19,333.4 V328.1 M500.69,329.6 V324.5 M502.19,327.6 V321.7 M503.69,323.6 V317.0 M505.19,319.1 V314.3 M512.69,319.7 V317.0 M515.69,320.6 V315.9 M520.19,321.5 V317.8 M521.69,320.4 V315.9 M524.69,318.0 V312.5 M526.19,318.1 V311.8 M533.69,320.7 V311.9 M535.19,318.8 V311.5 M542.69,328.7 V323.3 M544.19,327.4 V320.8 M545.69,322.4 V317.1 M547.19,321.1 V302.0 M548.69,311.3 V298.5 M554.69,305.6 V301.7 M557.69,304.9 V301.1 M559.19,304.6 V300.5 M560.69,304.6 V297.8 M571.19,303.8 V298.6 M572.69,301.0 V296.7 M574.19,300.1 V294.7 M575.69,298.0 V291.6 M580.19,298.5 V293.4 M581.69,296.9 V289.9 M583.19,293.1 V282.5 M584.69,288.5 V274.4 M586.19,282.5 V269.8 M593.69,293.5 V279.9 M595.19,284.1 V279.6 M596.69,286.9 V279.8 M598.19,284.1 V274.3 M599.69,279.9 V267.5 M601.19,274.0 V265.6 M602.69,268.6 V263.7 M604.19,269.5 V260.1 M605.69,265.6 V259.3 M607.19,263.3 V258.6 M608.69,261.7 V255.8 M610.19,260.7 V255.4 M616.19,270.0 V261.8 M617.69,268.3 V261.7 M622.19,273.3 V267.2 M623.69,269.5 V264.6 M625.19,269.8 V263.4 M628.19,268.0 V261.9 M629.69,268.0 V259.4 M631.19,265.1 V255.8 M632.69,260.2 V253.0 M634.19,257.8 V252.5 M638.69,258.9 V255.4 M643.19,261.7 V255.5 M644.69,260.1 V255.3 M646.19,258.4 V255.3 M652.19,266.5 V261.1 M653.69,266.3 V258.6 M655.19,261.3 V256.2 M658.19,260.1 V254.4 M659.69,258.9 V251.3 M661.19,254.8 V250.6 M664.19,255.7 V252.1 M665.69,255.5 V249.8 M668.69,257.7 V252.8 M670.19,256.3 V248.0 M674.69,276.0 V268.3 M676.19,276.0 V261.4 M677.69,268.3 V256.2 M679.19,258.7 V251.9 M680.69,256.6 V248.9 M682.19,251.3 V242.7 M683.69,249.3 V242.9 M685.19,245.5 V240.5 M686.69,246.0 V239.0 M688.19,247.4 V240.8 M691.19,245.2 V239.6 M692.69,240.9 V235.1 M694.19,241.1 V230.2 M698.69,238.5 V228.8 M700.19,236.1 V228.4 M701.69,231.2 V225.7 M706.19,235.0 V225.4 M709.19,234.2 V229.1 M713.69,237.6 V232.3 M716.69,237.7 V213.3 M719.69,224.2 V213.9 M721.19,213.9 V204.1 M722.69,212.9 V203.7 M724.19,209.5 V204.5 M725.69,207.9 V198.2 M728.69,202.3 V193.5 M730.19,200.2 V191.8 M731.69,197.8 V192.4 M737.69,209.9 V201.5 M740.69,214.6 V208.4 M743.69,215.1 V208.3 M745.19,215.1 V206.1 M746.69,211.4 V201.1 M749.69,207.4 V202.5 M751.19,210.0 V201.3 M755.69,218.0 V206.0 M757.19,206.0 V196.7 M760.19,206.5 V187.7 M761.69,195.2 V184.5 M767.69,201.5 V193.1 M773.69,214.2 V206.1 M775.19,211.0 V202.8 M776.69,209.4 V201.2 M778.19,206.0 V199.0 M779.69,206.5 V195.9 M781.19,198.5 V189.2 M782.69,196.4 V179.3 M787.19,205.7 V194.9 M788.69,196.5 V189.2 M790.19,196.8 V184.5 M791.69,184.7 V176.4 M793.19,183.8 V172.9 M794.69,180.8 V169.4 M796.19,173.1 V164.7 M797.69,171.9 V160.9 M800.69,165.3 V154.6 M802.19,161.4 V152.2 M803.69,156.4 V150.4 M805.19,151.8 V146.1 M806.69,151.9 V141.9 M808.19,147.8 V137.6 M814.19,152.7 V137.7 M815.69,151.1 V129.7 M817.19,130.3 V118.3 M818.69,131.9 V116.4 M823.19,129.2 V120.2 M824.69,126.6 V120.8 M826.19,127.0 V117.5 M827.69,123.4 V118.5 M832.19,128.2 V117.7 M833.69,127.7 V119.0 M835.19,127.4 V116.6 M842.69,143.7 V136.6 M845.69,143.3 V135.7 M848.69,143.2 V132.1 M853.19,143.6 V133.5 M856.19,139.5 V133.4 M857.69,140.0 V131.7 M859.19,138.8 V126.2 M860.69,137.5 V125.0 M865.19,137.9 V130.6 M866.69,138.5 V128.0 M869.69,134.7 V126.2 M872.69,140.8 V124.4 M878.69,161.6 V150.1 M886.19,175.1 V164.7 M887.69,166.2 V152.9 M889.19,157.7 V143.6 M890.69,154.3 V138.2 M892.19,142.1 V135.0 M893.69,142.8 V134.2 M896.69,146.7 V134.5 M899.69,146.8 V127.0 M901.19,131.7 V123.3 M902.69,129.5 V113.5 M905.69,117.6 V102.1" stroke="#3b9e2c" stroke-width="0.80" fill="none"/>
<path d="M76.19,412.3 V407.5 M80.69,413.5 V409.1 M82.19,414.0 V410.2 M89.69,405.3 V401.3 M97.19,402.2 V399.5 M103.19,401.8 V399.6 M104.69,402.1 V398.2 M116.69,394.9 V392.2 M118.19,394.6 V392.4 M121.19,393.4 V390.3 M125.69,392.9 V389.7 M128.69,392.4 V389.5 M130.19,392.7 V389.7 M133.19,392.8 V390.2 M134.69,393.0 V390.0 M137.69,392.5 V389.9 M139.19,393.9 V390.7 M140.69,393.6 V390.8 M142.19,395.2 V392.0 M143.69,397.3 V392.2 M145.19,396.7 V394.0 M146.69,397.7 V394.5 M151.19,399.4 V394.8 M152.69,399.0 V395.6 M154.19,399.5 V396.9 M155.69,399.8 V397.2 M157.19,401.9 V398.1 M160.19,404.0 V400.3 M161.69,403.9 V400.9 M169.19,396.2 V393.6 M170.69,396.6 V393.8 M172.19,396.8 V395.1 M176.69,395.1 V393.7 M178.19,396.2 V393.6 M182.69,396.9 V393.6 M184.19,398.4 V396.2 M185.69,400.2 V396.7 M187.19,402.3 V398.2 M188.69,404.0 V400.1 M190.19,404.8 V401.0 M191.69,405.0 V401.3 M193.19,405.8 V402.0 M194.69,406.1 V404.0 M197.69,405.5 V402.8 M200.69,403.3 V401.2 M203.69,403.7 V401.3 M205.19,403.8 V401.8 M208.19,403.7 V400.5 M209.69,403.0 V399.8 M212.69,401.4 V398.8 M220.19,394.8 V392.3 M221.69,395.9 V393.3 M229.19,394.5 V392.1 M230.69,395.6 V392.6 M232.19,395.9 V393.6 M241.19,385.5 V381.5 M244.19,387.9 V381.0 M245.69,390.4 V384.4 M247.19,393.0 V386.5 M257.69,383.8 V380.1 M259.19,384.4 V380.4 M260.69,386.9 V383.0 M262.19,390.1 V386.9 M263.69,391.6 V388.3 M265.19,394.3 V390.6 M266.69,395.7 V391.0 M280.19,378.5 V374.0 M287.69,375.8 V371.4 M289.19,378.7 V371.8 M290.69,381.2 V376.3 M295.19,382.8 V377.9 M301.19,379.5 V377.5 M305.69,376.5 V373.0 M307.19,378.0 V372.9 M310.19,380.6 V375.0 M311.69,385.9 V376.5 M313.19,387.6 V384.2 M314.69,389.4 V385.1 M325.19,381.4 V376.0 M328.19,379.1 V376.5 M331.19,379.6 V376.7 M332.69,380.2 V376.7 M335.69,384.1 V377.4 M338.69,380.1 V377.1 M340.19,382.5 V378.0 M341.69,383.2 V379.0 M346.19,384.2 V380.2 M347.69,386.4 V380.9 M349.19,389.2 V382.5 M350.69,388.4 V386.2 M355.19,386.9 V383.9 M356.69,389.8 V384.5 M358.19,390.8 V385.8 M359.69,392.8 V388.6 M361.19,394.8 V391.7 M367.19,396.2 V391.7 M368.69,397.4 V393.4 M370.19,397.1 V395.1 M386.69,377.4 V372.5 M391.19,372.4 V367.5 M394.19,372.4 V368.0 M400.19,369.4 V367.2 M406.19,366.3 V362.6 M409.19,366.0 V361.2 M412.19,364.5 V359.5 M413.69,366.3 V359.5 M421.19,353.7 V349.9 M422.69,355.5 V350.1 M424.19,355.7 V351.4 M425.69,355.7 V351.9 M434.69,349.6 V344.0 M436.19,352.0 V345.6 M437.69,355.0 V350.1 M439.19,355.8 V350.9 M440.69,357.5 V352.4 M449.69,355.2 V351.3 M451.19,355.3 V352.8 M460.19,347.2 V345.0 M461.69,348.5 V345.3 M472.19,342.5 V337.8 M473.69,342.1 V338.6 M482.69,335.3 V332.5 M485.69,334.3 V332.1 M488.69,336.9 V332.2 M491.69,340.2 V336.4 M493.19,340.7 V336.6 M496.19,340.1 V335.4 M506.69,316.3 V313.9 M508.19,318.0 V313.2 M509.69,319.4 V315.3 M511.19,319.7 V314.3 M514.19,320.1 V315.9 M517.19,321.1 V316.7 M518.69,321.5 V317.5 M523.19,321.0 V315.5 M527.69,316.9 V312.2 M529.19,316.3 V311.4 M530.69,320.6 V313.5 M532.19,320.6 V314.8 M536.69,317.7 V311.4 M538.19,319.4 V312.9 M539.69,324.9 V319.4 M541.19,328.7 V323.4 M550.19,306.7 V298.0 M551.69,305.4 V298.8 M553.19,304.8 V299.8 M556.19,304.3 V300.9 M562.19,301.0 V297.8 M563.69,302.7 V300.4 M565.19,308.1 V302.0 M566.69,307.8 V302.1 M568.19,309.0 V303.8 M569.69,308.0 V301.8 M577.19,297.6 V292.0 M578.69,299.5 V291.1 M587.69,276.5 V269.8 M589.19,279.7 V272.6 M590.69,289.7 V274.3 M592.19,302.1 V281.2 M611.69,264.5 V255.0 M613.19,266.9 V259.2 M614.69,269.8 V263.2 M619.19,270.9 V259.9 M620.69,273.3 V265.2 M626.69,269.0 V260.8 M635.69,256.3 V251.7 M637.19,257.3 V251.6 M640.19,261.7 V254.5 M641.69,260.5 V255.4 M647.69,263.0 V255.4 M649.19,262.8 V255.9 M650.69,267.1 V258.0 M656.69,263.4 V256.3 M662.69,254.6 V250.0 M667.19,256.3 V249.1 M671.69,268.1 V253.4 M673.19,276.0 V259.7 M689.69,247.4 V242.5 M695.69,236.2 V230.1 M697.19,236.5 V232.9 M703.19,239.2 V224.9 M704.69,238.4 V228.6 M707.69,231.2 V225.7 M710.69,234.2 V226.8 M712.19,236.0 V229.0 M715.19,235.7 V222.4 M718.19,225.9 V219.1 M727.19,204.4 V193.9 M733.19,202.2 V195.5 M734.69,205.8 V199.2 M736.19,205.5 V201.3 M739.19,212.0 V204.9 M742.19,215.1 V209.2 M748.19,209.5 V201.8 M752.69,213.1 V202.1 M754.19,220.1 V213.1 M758.69,205.0 V196.7 M763.19,195.6 V185.3 M764.69,200.2 V188.8 M766.19,200.3 V196.0 M769.19,204.3 V190.9 M770.69,215.5 V203.6 M772.19,216.0 V206.2 M784.19,220.8 V179.4 M785.69,222.3 V197.8 M799.19,167.4 V160.5 M809.69,145.9 V139.2 M811.19,148.4 V138.1 M812.69,153.0 V144.7 M820.19,124.6 V116.4 M821.69,128.2 V119.1 M829.19,125.5 V118.5 M830.69,128.2 V119.3 M836.69,124.2 V115.4 M838.19,134.8 V116.3 M839.69,139.4 V127.1 M841.19,143.7 V131.0 M844.19,141.9 V137.2 M847.19,140.3 V132.3 M850.19,143.1 V137.9 M851.69,144.1 V135.7 M854.69,142.5 V137.7 M862.19,136.9 V127.0 M863.69,137.9 V128.8 M868.19,135.1 V128.0 M871.19,127.7 V124.2 M874.19,143.6 V124.6 M875.69,154.1 V134.8 M877.19,162.3 V145.8 M880.19,161.2 V150.8 M881.69,166.7 V160.1 M883.19,174.5 V160.9 M884.69,176.8 V165.0 M895.19,146.3 V134.3 M898.19,146.2 V140.7 M904.19,129.9 V117.6" stroke="#b01818" stroke-width="0.80" fill="none"/>
<path d="M67.19,420.0 V419.1 M68.69,417.5 V416.4 M70.19,415.4 V412.2 M71.69,413.8 V410.9 M73.19,410.5 V408.7 M74.69,410.1 V408.0 M77.69,412.0 V410.6 M79.19,411.8 V408.7 M83.69,413.2 V409.0 M85.19,410.7 V405.0 M86.69,407.1 V404.2 M88.19,405.4 V401.8 M91.19,403.9 V402.4 M92.69,404.2 V402.3 M94.19,404.8 V401.8 M95.69,404.0 V401.6 M98.69,402.1 V400.5 M100.19,402.1 V399.4 M101.69,401.9 V400.2 M106.19,401.6 V399.0 M107.69,400.3 V399.4 M109.19,399.7 V396.5 M110.69,397.8 V395.1 M112.19,395.7 V393.6 M113.69,394.7 V392.5 M115.19,394.6 V392.8 M119.69,394.9 V393.1 M122.69,393.7 V391.3 M124.19,392.1 V390.4 M127.19,392.7 V389.4 M131.69,393.2 V390.1 M136.19,392.0 V389.9 M148.19,397.7 V396.5 M149.69,398.5 V394.8 M158.69,403.3 V400.5 M163.19,403.2 V401.9 M164.69,402.5 V399.6 M166.19,399.9 V398.1 M167.69,399.9 V393.6 M173.69,396.8 V395.1 M175.19,396.3 V393.8 M179.69,395.2 V393.6 M181.19,395.9 V393.8 M196.19,406.6 V404.2 M199.19,404.4 V401.4 M202.19,403.4 V401.1 M206.69,403.9 V401.4 M211.19,401.6 V399.0 M214.19,401.2 V397.8 M215.69,397.9 V395.8 M217.19,397.8 V393.5 M218.69,395.3 V393.6 M223.19,395.9 V392.7 M224.69,394.6 V393.2 M226.19,395.3 V393.7 M227.69,394.4 V392.3 M233.69,395.9 V390.4 M235.19,393.8 V386.1 M236.69,389.0 V385.9 M238.19,386.7 V384.0 M239.69,386.7 V383.9 M242.69,383.8 V381.0 M248.69,392.1 V389.0 M250.19,390.3 V388.6 M251.69,389.6 V387.3 M253.19,388.7 V385.5 M254.69,386.0 V381.8 M256.19,383.3 V380.1 M268.19,395.2 V393.7 M269.69,395.0 V390.2 M271.19,390.6 V387.7 M272.69,390.1 V385.6 M274.19,387.3 V382.6 M275.69,385.5 V380.7 M277.19,381.2 V376.8 M278.69,378.5 V374.4 M281.69,376.9 V373.2 M283.19,375.4 V373.0 M284.69,375.1 V372.7 M286.19,373.8 V372.0 M292.19,382.3 V380.6 M293.69,382.8 V376.9 M296.69,384.1 V382.4 M298.19,381.7 V378.8 M299.69,379.7 V378.2 M302.69,379.0 V377.0 M304.19,379.2 V372.9 M308.69,378.0 V375.9 M316.19,389.4 V386.1 M317.69,388.3 V384.2 M319.19,386.4 V380.8 M320.69,385.1 V380.5 M322.19,380.6 V377.6 M323.69,377.4 V376.0 M326.69,379.8 V378.5 M329.69,380.0 V376.5 M334.19,379.8 V377.8 M337.19,382.5 V380.0 M343.19,383.2 V382.3 M344.69,382.7 V380.9 M352.19,387.0 V384.9 M353.69,386.4 V384.1 M362.69,394.8 V390.9 M364.19,393.1 V391.0 M365.69,394.5 V391.6 M371.69,396.7 V393.3 M373.19,395.1 V393.4 M374.69,393.9 V390.1 M376.19,390.1 V388.5 M377.69,389.3 V386.3 M379.19,383.3 V381.0 M380.69,381.4 V378.0 M382.19,377.9 V374.9 M383.69,377.5 V374.5 M385.19,375.9 V373.5 M388.19,375.0 V371.3 M389.69,372.7 V370.1 M392.69,371.8 V368.5 M395.69,371.4 V369.9 M397.19,371.3 V369.2 M398.69,371.1 V367.9 M401.69,369.2 V366.4 M403.19,367.4 V365.9 M404.69,367.6 V365.3 M407.69,367.3 V364.1 M410.69,363.9 V360.9 M415.19,366.6 V360.0 M416.69,361.6 V357.6 M418.19,356.6 V351.5 M419.69,353.4 V350.8 M427.19,353.8 V349.4 M428.69,350.4 V347.5 M430.19,349.7 V347.4 M431.69,348.8 V345.9 M433.19,346.8 V343.2 M442.19,357.2 V352.0 M443.69,355.4 V351.0 M445.19,354.3 V350.6 M446.69,353.8 V350.2 M448.19,353.5 V350.7 M452.69,354.7 V352.5 M454.19,352.0 V349.6 M455.69,351.4 V349.1 M457.19,349.0 V345.8 M458.69,346.9 V345.5 M463.19,348.0 V344.8 M464.69,346.9 V342.1 M466.19,345.5 V342.5 M467.69,343.7 V341.5 M469.19,343.4 V339.7 M470.69,341.2 V339.6 M475.19,341.1 V338.4 M476.69,339.5 V336.5 M478.19,341.8 V337.0 M479.69,339.8 V334.8 M481.19,336.2 V334.5 M484.19,335.5 V332.1 M487.19,335.5 V332.1 M490.19,336.5 V335.1 M494.69,340.4 V337.5 M497.69,339.6 V333.5 M499.19,331.6 V328.2 M500.69,328.7 V325.4 M502.19,327.3 V323.0 M503.69,323.5 V317.7 M505.19,318.2 V314.8 M512.69,319.7 V317.1 M515.69,319.9 V315.9 M520.19,321.5 V318.5 M521.69,319.5 V316.8 M524.69,316.4 V313.7 M526.19,316.9 V313.2 M533.69,320.7 V313.7 M535.19,318.1 V312.0 M542.69,328.5 V324.2 M544.19,326.8 V321.0 M545.69,321.8 V318.5 M547.19,320.8 V309.0 M548.69,310.0 V298.6 M554.69,304.7 V302.1 M557.69,304.6 V302.0 M559.19,304.6 V302.7 M560.69,304.6 V297.8 M571.19,300.8 V299.3 M572.69,299.7 V298.5 M574.19,299.5 V295.1 M575.69,296.9 V293.1 M580.19,297.2 V294.5 M581.69,296.3 V292.6 M583.19,293.1 V285.0 M584.69,288.3 V277.9 M586.19,280.0 V271.3 M593.69,286.6 V281.9 M595.19,283.5 V280.9 M596.69,286.8 V282.5 M598.19,284.1 V278.7 M599.69,277.7 V270.0 M601.19,273.1 V267.2 M602.69,268.3 V263.7 M604.19,269.2 V260.3 M605.69,263.2 V260.4 M607.19,263.0 V259.4 M608.69,260.7 V256.4 M610.19,259.6 V255.8 M616.19,270.0 V264.3 M617.69,266.5 V262.9 M622.19,273.3 V267.3 M623.69,268.2 V265.8 M625.19,268.1 V264.1 M628.19,268.0 V264.2 M629.69,267.2 V259.9 M631.19,263.9 V257.9 M632.69,259.5 V253.8 M634.19,255.7 V252.5 M638.69,258.7 V256.5 M643.19,260.3 V257.4 M644.69,259.7 V255.3 M646.19,257.5 V255.3 M652.19,265.8 V261.2 M653.69,265.9 V258.9 M655.19,260.8 V256.3 M658.19,260.0 V254.5 M659.69,257.5 V251.3 M661.19,254.7 V250.6 M664.19,255.7 V252.7 M665.69,255.1 V251.6 M668.69,257.4 V254.9 M670.19,255.4 V248.3 M674.69,274.2 V272.2 M676.19,274.3 V265.9 M677.69,267.9 V256.8 M679.19,258.1 V253.4 M680.69,255.2 V251.1 M682.19,251.2 V243.8 M683.69,249.1 V245.7 M685.19,244.6 V242.6 M686.69,243.9 V239.6 M688.19,247.4 V240.8 M691.19,245.1 V242.3 M692.69,240.2 V236.7 M694.19,240.3 V230.3 M698.69,238.5 V231.7 M700.19,235.7 V229.5 M701.69,230.0 V226.2 M706.19,234.2 V225.4 M709.19,233.9 V230.4 M713.69,237.5 V233.1 M716.69,237.7 V215.1 M719.69,222.6 V217.3 M721.19,212.1 V207.0 M722.69,211.8 V205.4 M724.19,207.3 V206.3 M725.69,207.0 V199.9 M728.69,201.4 V194.0 M730.19,198.8 V193.1 M731.69,196.8 V192.8 M737.69,207.6 V201.8 M740.69,214.6 V208.8 M743.69,215.0 V209.3 M745.19,215.1 V208.4 M746.69,211.3 V202.0 M749.69,206.9 V204.0 M751.19,206.8 V201.7 M755.69,210.6 V207.3 M757.19,203.0 V198.8 M760.19,204.0 V192.4 M761.69,192.6 V185.1 M767.69,200.3 V193.8 M773.69,212.4 V209.1 M775.19,210.9 V202.9 M776.69,206.8 V202.1 M778.19,203.8 V200.2 M779.69,203.5 V196.6 M781.19,196.8 V193.6 M782.69,195.6 V180.8 M787.19,199.9 V196.9 M788.69,194.1 V190.5 M790.19,193.5 V186.8 M791.69,184.2 V176.8 M793.19,180.5 V176.2 M794.69,177.9 V170.0 M796.19,172.8 V166.6 M797.69,171.3 V161.5 M800.69,164.0 V157.7 M802.19,160.4 V155.5 M803.69,154.9 V151.8 M805.19,150.7 V146.3 M806.69,151.0 V143.5 M808.19,145.9 V140.3 M814.19,152.5 V140.5 M815.69,148.3 V134.0 M817.19,129.9 V122.1 M818.69,129.9 V118.1 M823.19,129.2 V122.5 M824.69,125.8 V121.3 M826.19,127.0 V119.3 M827.69,122.3 V118.5 M832.19,128.2 V118.5 M833.69,127.7 V119.0 M835.19,123.5 V118.5 M842.69,143.7 V138.8 M845.69,143.3 V136.8 M848.69,140.9 V132.1 M853.19,142.0 V135.7 M856.19,139.5 V133.7 M857.69,137.9 V134.0 M859.19,138.8 V128.0 M860.69,134.2 V128.6 M865.19,136.1 V132.6 M866.69,135.5 V128.0 M869.69,132.7 V126.7 M872.69,140.1 V128.9 M878.69,159.9 V152.1 M886.19,173.9 V166.8 M887.69,166.0 V158.0 M889.19,157.4 V149.5 M890.69,152.6 V138.5 M892.19,141.2 V137.3 M893.69,139.5 V134.2 M896.69,144.8 V137.6 M899.69,146.5 V129.0 M901.19,131.7 V124.8 M902.69,129.2 V117.2 M905.69,110.8 V103.1" stroke="#3b9e2c" stroke-width="1.50" fill="none"/>
<path d="M76.19,412.1 V408.4 M80.69,412.6 V409.3 M82.19,413.9 V410.7 M89.69,404.2 V401.6 M97.19,401.8 V399.7 M103.19,401.4 V399.6 M104.69,402.1 V399.5 M116.69,394.7 V392.3 M118.19,394.4 V392.4 M121.19,392.6 V390.8 M125.69,392.3 V390.5 M128.69,391.9 V390.4 M130.19,392.6 V389.7 M133.19,392.0 V390.3 M134.69,393.0 V390.3 M137.69,392.1 V389.9 M139.19,392.7 V391.0 M140.69,393.2 V391.4 M142.19,394.6 V392.2 M143.69,396.9 V392.6 M145.19,396.4 V394.6 M146.69,397.7 V395.7 M151.19,399.1 V395.3 M152.69,397.9 V396.4 M154.19,399.3 V397.1 M155.69,399.5 V397.4 M157.19,401.6 V398.8 M160.19,403.3 V400.7 M161.69,403.2 V401.1 M169.19,395.5 V393.6 M170.69,396.2 V393.9 M172.19,396.8 V395.5 M176.69,394.8 V393.7 M178.19,396.1 V393.6 M182.69,396.5 V393.6 M184.19,398.2 V396.4 M185.69,399.2 V396.8 M187.19,402.2 V398.7 M188.69,402.9 V400.6 M190.19,404.4 V401.6 M191.69,404.5 V402.6 M193.19,404.8 V403.0 M194.69,405.9 V404.6 M197.69,405.4 V402.9 M200.69,402.6 V401.2 M203.69,402.3 V401.3 M205.19,403.7 V401.9 M208.19,403.5 V400.7 M209.69,402.8 V399.9 M212.69,400.9 V398.9 M220.19,394.7 V392.6 M221.69,395.9 V394.1 M229.19,393.4 V392.1 M230.69,395.3 V393.2 M232.19,395.9 V394.3 M241.19,384.6 V382.4 M244.19,386.9 V381.0 M245.69,388.3 V385.9 M247.19,392.5 V386.7 M257.69,383.4 V380.1 M259.19,383.6 V381.3 M260.69,386.0 V383.4 M262.19,389.3 V387.1 M263.69,390.8 V389.2 M265.19,394.1 V391.3 M266.69,395.7 V392.4 M280.19,376.9 V374.2 M287.69,374.6 V372.0 M289.19,377.8 V372.6 M290.69,380.8 V377.3 M295.19,382.5 V378.9 M301.19,379.4 V377.8 M305.69,374.9 V373.0 M307.19,377.4 V373.0 M310.19,378.8 V375.6 M311.69,384.6 V377.0 M313.19,387.3 V385.1 M314.69,389.1 V385.7 M325.19,381.4 V376.1 M328.19,379.0 V377.3 M331.19,378.4 V376.8 M332.69,379.4 V377.8 M335.69,384.0 V377.9 M338.69,379.7 V377.1 M340.19,381.5 V379.3 M341.69,382.9 V380.5 M346.19,384.1 V380.3 M347.69,385.2 V381.4 M349.19,388.7 V383.0 M350.69,388.0 V386.4 M355.19,386.2 V384.1 M356.69,388.3 V385.9 M358.19,389.3 V386.2 M359.69,390.9 V388.7 M361.19,394.2 V391.9 M367.19,395.0 V392.2 M368.69,397.0 V393.8 M370.19,397.1 V395.1 M386.69,375.8 V372.9 M391.19,371.3 V367.5 M394.19,372.2 V368.2 M400.19,369.3 V367.2 M406.19,366.2 V363.0 M409.19,365.5 V362.9 M412.19,361.6 V359.5 M413.69,365.4 V360.2 M421.19,353.1 V350.5 M422.69,354.8 V350.6 M424.19,355.7 V351.5 M425.69,355.7 V352.6 M434.69,349.2 V344.4 M436.19,349.5 V346.7 M437.69,352.7 V350.9 M439.19,354.4 V351.5 M440.69,357.5 V353.6 M449.69,354.6 V351.6 M451.19,355.3 V353.2 M460.19,346.9 V345.0 M461.69,348.5 V345.4 M472.19,341.7 V337.9 M473.69,341.1 V339.3 M482.69,334.4 V332.5 M485.69,333.9 V332.1 M488.69,336.7 V333.3 M491.69,339.8 V336.8 M493.19,339.9 V338.5 M496.19,340.1 V336.1 M506.69,316.2 V315.0 M508.19,316.9 V313.2 M509.69,319.1 V315.6 M511.19,319.5 V315.6 M514.19,319.0 V315.9 M517.19,320.1 V317.3 M518.69,321.5 V318.5 M523.19,320.4 V316.5 M527.69,316.7 V312.4 M529.19,314.8 V311.4 M530.69,319.3 V314.3 M532.19,320.6 V315.4 M536.69,317.1 V312.7 M538.19,317.7 V313.3 M539.69,322.5 V320.7 M541.19,328.0 V324.1 M550.19,305.3 V298.3 M551.69,304.8 V299.5 M553.19,304.0 V299.8 M556.19,304.2 V301.9 M562.19,300.7 V297.8 M563.69,302.5 V300.8 M565.19,306.7 V303.0 M566.69,307.4 V302.3 M568.19,307.2 V304.3 M569.69,307.3 V302.7 M577.19,295.9 V292.1 M578.69,297.2 V292.0 M587.69,274.3 V270.0 M589.19,278.7 V272.9 M590.69,284.7 V280.0 M592.19,300.5 V283.0 M611.69,263.1 V255.9 M613.19,265.6 V261.1 M614.69,269.8 V265.7 M619.19,269.9 V261.3 M620.69,273.3 V266.5 M626.69,268.7 V262.3 M635.69,254.3 V252.3 M637.19,256.6 V251.9 M640.19,260.9 V255.1 M641.69,260.2 V255.6 M647.69,261.3 V255.4 M649.19,261.2 V256.7 M650.69,267.1 V259.9 M656.69,262.9 V256.8 M662.69,254.2 V250.5 M667.19,256.3 V250.5 M671.69,262.7 V260.6 M673.19,274.8 V260.1 M689.69,247.4 V244.8 M695.69,236.1 V231.3 M697.19,235.7 V233.6 M703.19,233.0 V227.1 M704.69,236.0 V232.3 M707.69,231.1 V228.1 M710.69,233.6 V226.8 M712.19,235.9 V229.6 M715.19,235.1 V226.3 M718.19,224.8 V220.0 M727.19,202.0 V195.9 M733.19,200.6 V197.0 M734.69,204.6 V200.7 M736.19,204.3 V202.4 M739.19,210.8 V206.9 M742.19,215.1 V210.9 M748.19,206.4 V202.1 M752.69,210.8 V203.0 M754.19,219.0 V215.6 M758.69,203.2 V198.9 M763.19,195.5 V186.8 M764.69,197.2 V190.7 M766.19,199.8 V197.6 M769.19,202.0 V193.6 M770.69,213.0 V206.8 M772.19,213.6 V206.8 M784.19,204.4 V179.4 M785.69,214.4 V200.0 M799.19,165.2 V162.0 M809.69,142.3 V139.4 M811.19,146.9 V138.8 M812.69,151.2 V146.6 M820.19,121.8 V116.4 M821.69,127.9 V120.6 M829.19,123.5 V118.5 M830.69,125.3 V119.6 M836.69,122.3 V115.4 M838.19,131.0 V117.8 M839.69,137.2 V129.9 M841.19,142.9 V132.1 M844.19,141.6 V137.4 M847.19,139.9 V132.8 M850.19,140.8 V138.1 M851.69,143.7 V138.9 M854.69,142.5 V138.1 M862.19,135.0 V128.5 M863.69,136.5 V130.6 M868.19,134.9 V128.8 M871.19,127.5 V124.7 M874.19,137.7 V125.3 M875.69,151.9 V136.3 M877.19,160.5 V149.3 M880.19,155.7 V151.4 M881.69,165.4 V161.0 M883.19,173.5 V161.5 M884.69,175.1 V168.4 M895.19,145.1 V134.5 M898.19,145.5 V142.9 M904.19,128.9 V121.6" stroke="#b01818" stroke-width="1.50" fill="none"/>
<rect x="72.5" y="12.0" width="10" height="10" fill="#3fa535" stroke="#000" stroke-width="1.5"/>
<text x="88" y="22" font-size="15.2" fill="#a0a0a0">Op:1859, Hi:1887, Lo:1851, Cl:1874</text>
<rect x="362.5" y="12.0" width="10" height="10" fill="#a5dca5" stroke="#000" stroke-width="1.5"/>
<text x="378" y="22" font-size="15.2" fill="#a0a0a0">Vol: 0K</text>
<rect x="461.5" y="12.0" width="10" height="10" fill="#6666ee" stroke="#000" stroke-width="1.5"/>
<text x="477" y="22" font-size="15.2" fill="#a0a0a0">SMA (200): 1663</text>
<rect x="624.5" y="12.0" width="10" height="10" fill="#ffff00" stroke="#000" stroke-width="1.5"/>
<text x="640" y="22" font-size="15.2" fill="#a0a0a0">SMA (50): 1690</text>
<text x="74.2" y="68" font-size="20.2" font-weight="bold" fill="#8c8c8c">5 Jahre, 1-Tages-Kerzen</text>
<text x="912.8" y="88.7" font-size="18.6" fill="#a0a0a0">2.000</text>
<text x="912.8" y="129.1" font-size="18.6" fill="#a0a0a0">1.800</text>
<text x="912.8" y="169.6" font-size="18.6" fill="#a0a0a0">1.600</text>
<text x="912.8" y="210.0" font-size="18.6" fill="#a0a0a0">1.400</text>
<text x="912.8" y="250.5" font-size="18.6" fill="#a0a0a0">1.200</text>
<text x="912.8" y="290.9" font-size="18.6" fill="#a0a0a0">1.000</text>
<text x="912.8" y="331.3" font-size="18.6" fill="#a0a0a0">800</text>
<text x="912.8" y="371.8" font-size="18.6" fill="#a0a0a0">600</text>
<text x="912.8" y="412.2" font-size="18.6" fill="#a0a0a0">400</text>
<text x="912.8" y="452.7" font-size="18.6" fill="#a0a0a0">200</text>
<text x="61" y="339.9" font-size="18.6" text-anchor="end" fill="#a0a0a0">100K</text>
<text x="61" y="366.3" font-size="18.6" text-anchor="end" fill="#a0a0a0">80K</text>
<text x="61" y="392.7" font-size="18.6" text-anchor="end" fill="#a0a0a0">60K</text>
<text x="61" y="419.2" font-size="18.6" text-anchor="end" fill="#a0a0a0">40K</text>
<text x="61" y="445.9" font-size="18.6" text-anchor="end" fill="#a0a0a0">20K</text>
<text x="61" y="472.5" font-size="18.6" text-anchor="end" fill="#a0a0a0">0K</text>
<text x="68.4" y="487.7" font-size="18.5" text-anchor="middle" fill="#a0a0a0">2021</text>
<text x="237.6" y="487.7" font-size="18.5" text-anchor="middle" fill="#a0a0a0">2022</text>
<text x="406.3" y="487.7" font-size="18.5" text-anchor="middle" fill="#a0a0a0">2023</text>
<text x="573.8" y="487.7" font-size="18.5" text-anchor="middle" fill="#a0a0a0">2024</text>
<text x="741.2" y="487.7" font-size="18.5" text-anchor="middle" fill="#a0a0a0">2025</text>
<rect x="70.3" y="424.2" width="51.7" height="18.8" fill="#cc0000"/>
<text x="72.8" y="439.3" font-size="15" fill="#fff">331,70</text>
<circle cx="67.5" cy="419.5" r="4.9" fill="none" stroke="#222" stroke-width="1.4"/>
<rect x="839.2" y="81.2" width="64.1" height="19" fill="#009900"/>
<text x="841.6" y="96.3" font-size="15" fill="#fff">1.887,04</text>
<circle cx="906.3" cy="104.5" r="4.9" fill="none" stroke="#222" stroke-width="1.4"/>
<rect x="66.2" y="497.6" width="842.3" height="18.9" fill="#e4e4e4"/>
<path d="M236.1,497.6 V647.4 M406.1,497.6 V647.4 M573.6,497.6 V647.4 M741.0,497.6 V647.4 M66.2,527.7 H908.5 M66.2,587.5 H908.5" stroke="#000" stroke-opacity="0.115" stroke-width="1.5" fill="none"/>
<path d="M903.5,527.7 H908.5 M903.5,587.5 H908.5 M67.6,647.4 V650.7 M236.1,647.4 V650.7 M406.1,647.4 V650.7 M573.6,647.4 V650.7 M741.0,647.4 V650.7" stroke="#979797" stroke-width="1.5" fill="none"/>
<rect x="66.2" y="497.6" width="842.3" height="149.8" fill="none" stroke="#979797" stroke-width="1.5"/>
<clipPath id="c70"><rect x="66.2" y="497.6" width="842.3" height="66.0"/></clipPath>
<path d="M66.8,592.9 L68.1,574.9 L69.9,564.1 L71.7,556.9 L72.9,559.6 L74.0,555.1 L75.3,563.2 L76.2,587.5 L77.4,568.6 L78.5,565.9 L79.8,585.7 L81.2,587.5 L82.5,592.0 L84.2,580.3 L86.0,567.7 L87.3,559.6 L88.7,568.6 L90.5,573.1 L92.3,568.6 L94.5,566.8 L95.9,575.8 L97.7,568.6 L99.2,565.0 L101.0,574.0 L102.8,579.4 L104.5,572.2 L106.3,568.6 L108.1,563.2 L109.9,564.1 L112.1,556.9 L113.5,559.6 L114.8,556.0 L116.0,564.1 L117.1,577.6 L118.4,568.6 L119.6,563.2 L121.1,574.9 L122.9,578.5 L124.3,568.6 L126.1,565.0 L127.9,580.3 L129.7,575.8 L131.5,582.1 L133.3,579.4 L134.6,585.7 L136.3,580.3 L137.8,576.7 L139.4,583.9 L141.2,594.7 L143.0,603.6 L144.8,616.2 L146.2,598.3 L148.0,588.4 L149.5,601.9 L150.7,602.8 L152.0,589.3 L153.4,599.2 L154.8,594.7 L157.0,603.6 L158.8,610.8 L160.6,603.6 L162.8,613.5 L164.5,596.5 L166.0,583.9 L167.8,573.1 L169.6,574.0 L171.7,574.9 L173.5,587.5 L175.0,576.7 L176.8,579.4 L178.6,591.1 L180.7,574.0 L182.5,585.7 L184.3,594.7 L185.7,601.9 L187.2,605.4 L188.6,614.4 L190.1,602.8 L191.5,609.9 L192.9,613.5 L194.0,608.1 L195.1,613.5 L196.5,601.9 L198.0,585.7 L199.4,589.3 L200.8,595.6 L202.3,583.9 L203.7,592.0 L205.5,592.9 L207.3,595.6 L209.1,596.5 L210.5,583.0 L211.8,572.2 L213.0,582.1 L214.5,581.2 L215.9,569.5 L217.4,563.2 L218.8,569.5 L220.2,566.8 L221.7,578.5 L223.1,583.9 L224.5,573.1 L226.0,566.8 L227.4,576.7 L228.8,583.9 L230.0,574.0 L231.8,588.4 L233.6,574.9 L235.4,565.9 L237.5,565.0 L239.3,560.5 L240.8,562.3 L241.9,556.9 L243.3,565.9 L244.7,580.3 L246.2,592.0 L248.0,597.4 L249.8,583.9 L251.2,574.9 L252.6,576.7 L254.1,565.0 L255.5,563.2 L256.9,570.4 L258.4,565.9 L259.8,582.1 L261.3,594.7 L262.7,601.0 L264.1,603.6 L265.9,610.8 L267.4,601.0 L268.8,598.3 L270.2,587.5 L271.7,582.1 L273.1,583.9 L274.9,569.5 L276.7,558.7 L278.1,552.5 L279.2,562.3 L280.3,553.4 L281.4,568.6 L282.8,565.0 L283.9,569.5 L285.7,561.4 L287.1,571.3 L288.6,592.0 L290.0,579.4 L291.4,595.6 L292.9,581.2 L294.3,594.7 L295.7,595.6 L297.2,597.4 L298.6,582.1 L300.1,583.0 L301.5,589.3 L302.9,583.9 L304.4,578.5 L305.8,577.6 L307.2,587.5 L308.7,581.2 L310.1,591.1 L311.6,603.6 L313.0,599.2 L314.1,607.2 L315.5,599.2 L316.9,601.9 L318.4,589.3 L319.8,581.2 L321.2,592.9 L322.7,577.6 L324.1,582.1 L325.6,587.5 L327.0,585.7 L328.4,578.5 L329.9,583.9 L331.3,579.4 L332.8,583.9 L334.2,593.8 L335.6,585.7 L337.1,591.1 L338.5,587.5 L339.9,594.7 L341.4,584.8 L342.8,591.1 L344.2,599.2 L345.7,590.2 L347.1,597.4 L348.6,600.1 L350.0,604.5 L351.4,596.5 L352.9,592.0 L353.9,588.4 L355.4,597.4 L356.8,593.8 L358.3,601.9 L359.7,609.0 L361.1,612.6 L362.6,598.3 L363.6,605.4 L364.7,584.8 L366.2,592.9 L367.6,603.6 L369.0,600.1 L370.5,602.8 L371.9,597.4 L373.3,595.6 L374.8,582.1 L376.2,570.4 L377.7,574.0 L379.1,583.0 L380.5,564.1 L381.6,556.0 L382.7,570.4 L383.8,565.0 L384.8,573.1 L386.3,567.7 L388.1,565.0 L389.9,563.2 L391.7,562.3 L393.1,561.4 L394.5,575.8 L396.0,571.3 L397.4,570.4 L398.9,566.8 L400.0,577.6 L401.4,567.7 L402.9,576.7 L404.3,565.9 L405.8,573.1 L407.2,578.5 L408.6,569.5 L410.1,565.0 L411.5,564.1 L412.9,574.9 L414.4,588.4 L415.8,571.3 L417.2,558.7 L418.7,568.6 L420.1,562.3 L421.2,563.2 L422.3,577.6 L423.7,573.1 L425.1,577.6 L426.6,574.9 L427.7,582.1 L428.7,564.1 L429.8,574.9 L431.3,571.3 L432.7,568.6 L434.1,574.0 L435.6,581.2 L437.0,589.3 L438.4,598.3 L439.9,587.5 L441.3,592.9 L442.8,586.6 L444.2,588.4 L445.6,583.9 L447.1,582.1 L448.5,587.5 L449.9,592.0 L451.4,593.8 L452.8,588.4 L454.2,591.1 L455.7,572.2 L457.1,582.1 L458.6,573.1 L460.0,578.5 L461.1,573.1 L462.5,580.3 L463.9,583.0 L465.4,578.5 L466.8,580.3 L468.3,570.4 L469.7,566.8 L471.1,570.4 L472.2,582.1 L473.6,568.6 L475.1,574.0 L476.5,569.5 L478.0,559.6 L479.0,578.5 L480.5,574.9 L481.9,572.2 L483.4,583.0 L484.8,575.8 L486.2,584.8 L487.7,577.6 L489.1,580.3 L490.5,587.5 L492.0,593.8 L493.4,591.1 L494.8,592.9 L496.3,583.9 L497.7,575.8 L499.2,570.4 L500.6,565.0 L502.0,560.5 L503.5,557.8 L504.5,548.9 L506.0,549.8 L507.1,564.1 L508.5,559.6 L509.9,561.4 L511.4,573.1 L512.8,566.8 L514.2,570.4 L515.7,574.0 L517.1,579.4 L518.6,581.2 L520.0,586.6 L521.4,588.4 L522.9,578.5 L524.3,573.1 L525.7,567.7 L527.2,564.1 L528.3,565.9 L529.7,582.1 L531.1,600.1 L532.6,584.8 L534.0,574.9 L535.4,577.6 L536.9,589.3 L538.3,590.2 L539.8,601.0 L541.2,609.9 L542.6,603.6 L544.1,585.7 L545.5,584.8 L546.9,580.3 L548.0,564.1 L549.1,558.7 L550.2,570.4 L551.6,567.7 L553.0,568.6 L554.5,583.0 L555.9,576.7 L557.4,573.1 L558.8,574.9 L560.2,570.4 L561.7,582.1 L563.1,590.2 L564.5,574.0 L566.0,581.2 L567.4,592.0 L568.9,591.1 L570.0,591.1 L571.8,582.1 L573.2,576.7 L574.7,571.3 L576.1,564.1 L577.5,582.1 L579.0,581.2 L580.4,583.9 L581.9,573.1 L583.3,565.0 L584.7,568.6 L586.2,555.1 L587.2,556.9 L588.3,567.7 L589.8,567.7 L590.8,589.3 L591.6,601.9 L593.0,587.5 L594.4,577.6 L595.9,585.7 L597.3,578.5 L598.7,577.6 L600.2,575.8 L601.6,572.2 L603.0,574.9 L604.5,569.5 L605.9,572.2 L607.4,568.6 L608.8,564.1 L609.9,563.2 L611.3,574.9 L612.8,583.9 L614.2,588.4 L615.6,591.1 L617.1,576.7 L618.5,587.5 L619.9,594.7 L621.4,595.6 L622.8,583.0 L624.2,588.4 L625.7,589.3 L627.1,582.1 L628.6,587.5 L630.0,573.1 L631.4,570.4 L632.9,567.7 L634.3,574.0 L635.7,572.2 L637.2,575.8 L638.6,574.0 L640.1,583.0 L641.1,574.9 L642.2,596.5 L643.6,585.7 L645.1,580.3 L646.5,585.7 L648.0,583.9 L649.4,596.5 L650.8,592.0 L652.3,601.0 L653.7,586.6 L655.1,581.2 L656.6,576.7 L658.0,581.2 L659.1,570.4 L660.2,582.1 L661.6,576.7 L663.0,574.0 L664.5,578.5 L665.9,575.8 L667.4,583.9 L668.1,598.3 L669.2,583.0 L670.6,574.0 L671.7,601.9 L673.1,608.1 L674.5,606.3 L676.0,594.7 L677.4,583.9 L678.9,582.1 L680.3,575.8 L681.7,572.2 L683.2,573.1 L684.6,568.6 L686.0,567.7 L687.5,565.0 L688.6,580.3 L690.0,570.4 L691.4,573.1 L692.9,567.7 L694.3,565.0 L695.7,567.7 L696.8,576.7 L697.9,569.5 L699.3,570.4 L700.8,564.1 L702.2,560.5 L703.3,574.9 L704.0,595.6 L705.1,577.6 L706.5,575.8 L708.0,577.6 L709.4,583.0 L710.8,584.8 L712.3,583.9 L713.7,581.2 L714.8,589.3 L715.9,563.2 L716.9,578.5 L718.4,575.8 L719.8,573.1 L721.2,568.6 L722.7,567.7 L724.1,564.1 L725.6,560.5 L727.0,565.9 L728.4,564.1 L729.9,561.4 L731.3,559.6 L732.4,563.2 L733.5,576.7 L735.0,578.5 L736.8,583.0 L738.6,587.5 L740.4,591.1 L742.2,592.9 L744.3,604.5 L745.8,589.3 L747.2,582.1 L748.6,577.6 L750.1,578.5 L751.5,589.3 L753.0,597.4 L754.0,600.1 L755.5,583.9 L756.6,574.0 L758.0,585.7 L759.4,572.2 L760.9,563.2 L761.9,565.0 L763.4,578.5 L764.5,587.5 L765.9,579.4 L767.3,587.5 L768.8,580.3 L770.2,588.4 L771.6,601.0 L773.1,605.4 L774.5,587.5 L776.0,588.4 L777.4,587.5 L778.8,581.2 L780.3,579.4 L781.7,571.3 L782.8,565.9 L784.2,587.5 L785.3,604.5 L786.7,588.4 L788.2,580.3 L789.6,576.7 L791.0,574.0 L792.5,571.3 L793.9,567.7 L795.4,564.1 L796.8,560.5 L797.9,557.8 L799.3,567.7 L800.4,571.3 L801.8,565.9 L803.3,562.3 L804.7,558.7 L806.1,550.7 L807.2,549.8 L808.3,562.3 L809.7,563.2 L811.2,564.1 L812.6,577.6 L814.0,570.4 L815.1,564.1 L816.2,556.9 L817.3,561.4 L818.7,554.2 L819.8,551.6 L820.9,568.6 L822.3,563.2 L823.7,578.5 L825.2,572.2 L826.6,573.1 L828.0,574.0 L829.5,580.3 L830.6,586.6 L832.0,578.5 L833.4,581.2 L834.9,580.3 L836.0,571.3 L837.0,583.9 L838.5,596.5 L839.9,593.8 L841.3,601.0 L842.4,605.4 L843.9,601.9 L845.3,592.9 L846.4,597.4 L848.2,583.9 L849.2,598.3 L850.7,592.0 L852.1,589.3 L853.6,585.7 L855.0,592.9 L856.4,583.9 L857.9,578.5 L858.9,590.2 L860.4,574.9 L861.5,573.1 L862.9,583.9 L864.0,592.9 L865.4,587.5 L866.9,583.0 L868.3,583.9 L869.7,580.3 L871.2,585.7 L872.6,574.0 L873.7,591.1 L874.8,605.4 L875.8,614.4 L877.3,598.3 L878.7,596.5 L880.1,601.0 L881.6,605.4 L883.0,609.9 L884.5,609.9 L885.9,601.9 L887.3,594.7 L888.8,582.1 L890.2,576.7 L891.6,580.3 L893.1,570.4 L894.5,574.0 L896.0,578.5 L897.4,585.7 L898.5,573.1 L899.9,572.2 L901.3,568.6 L902.8,565.0 L903.9,565.9 L904.9,558.7 L906.0,556.9 L906.0,563.6 L66.8,563.6 Z" fill="#ff6060" clip-path="url(#c70)"/>
<path d="M66.2,563.6 H908.5" stroke="#ff5a5a" stroke-width="1.5"/>
<path d="M66.2,611.2 H908.5" stroke="#5a5aff" stroke-width="1.5"/>
<path d="M66.8,592.9 L68.1,574.9 L69.9,564.1 L71.7,556.9 L72.9,559.6 L74.0,555.1 L75.3,563.2 L76.2,587.5 L77.4,568.6 L78.5,565.9 L79.8,585.7 L81.2,587.5 L82.5,592.0 L84.2,580.3 L86.0,567.7 L87.3,559.6 L88.7,568.6 L90.5,573.1 L92.3,568.6 L94.5,566.8 L95.9,575.8 L97.7,568.6 L99.2,565.0 L101.0,574.0 L102.8,579.4 L104.5,572.2 L106.3,568.6 L108.1,563.2 L109.9,564.1 L112.1,556.9 L113.5,559.6 L114.8,556.0 L116.0,564.1 L117.1,577.6 L118.4,568.6 L119.6,563.2 L121.1,574.9 L122.9,578.5 L124.3,568.6 L126.1,565.0 L127.9,580.3 L129.7,575.8 L131.5,582.1 L133.3,579.4 L134.6,585.7 L136.3,580.3 L137.8,576.7 L139.4,583.9 L141.2,594.7 L143.0,603.6 L144.8,616.2 L146.2,598.3 L148.0,588.4 L149.5,601.9 L150.7,602.8 L152.0,589.3 L153.4,599.2 L154.8,594.7 L157.0,603.6 L158.8,610.8 L160.6,603.6 L162.8,613.5 L164.5,596.5 L166.0,583.9 L167.8,573.1 L169.6,574.0 L171.7,574.9 L173.5,587.5 L175.0,576.7 L176.8,579.4 L178.6,591.1 L180.7,574.0 L182.5,585.7 L184.3,594.7 L185.7,601.9 L187.2,605.4 L188.6,614.4 L190.1,602.8 L191.5,609.9 L192.9,613.5 L194.0,608.1 L195.1,613.5 L196.5,601.9 L198.0,585.7 L199.4,589.3 L200.8,595.6 L202.3,583.9 L203.7,592.0 L205.5,592.9 L207.3,595.6 L209.1,596.5 L210.5,583.0 L211.8,572.2 L213.0,582.1 L214.5,581.2 L215.9,569.5 L217.4,563.2 L218.8,569.5 L220.2,566.8 L221.7,578.5 L223.1,583.9 L224.5,573.1 L226.0,566.8 L227.4,576.7 L228.8,583.9 L230.0,574.0 L231.8,588.4 L233.6,574.9 L235.4,565.9 L237.5,565.0 L239.3,560.5 L240.8,562.3 L241.9,556.9 L243.3,565.9 L244.7,580.3 L246.2,592.0 L248.0,597.4 L249.8,583.9 L251.2,574.9 L252.6,576.7 L254.1,565.0 L255.5,563.2 L256.9,570.4 L258.4,565.9 L259.8,582.1 L261.3,594.7 L262.7,601.0 L264.1,603.6 L265.9,610.8 L267.4,601.0 L268.8,598.3 L270.2,587.5 L271.7,582.1 L273.1,583.9 L274.9,569.5 L276.7,558.7 L278.1,552.5 L279.2,562.3 L280.3,553.4 L281.4,568.6 L282.8,565.0 L283.9,569.5 L285.7,561.4 L287.1,571.3 L288.6,592.0 L290.0,579.4 L291.4,595.6 L292.9,581.2 L294.3,594.7 L295.7,595.6 L297.2,597.4 L298.6,582.1 L300.1,583.0 L301.5,589.3 L302.9,583.9 L304.4,578.5 L305.8,577.6 L307.2,587.5 L308.7,581.2 L310.1,591.1 L311.6,603.6 L313.0,599.2 L314.1,607.2 L315.5,599.2 L316.9,601.9 L318.4,589.3 L319.8,581.2 L321.2,592.9 L322.7,577.6 L324.1,582.1 L325.6,587.5 L327.0,585.7 L328.4,578.5 L329.9,583.9 L331.3,579.4 L332.8,583.9 L334.2,593.8 L335.6,585.7 L337.1,591.1 L338.5,587.5 L339.9,594.7 L341.4,584.8 L342.8,591.1 L344.2,599.2 L345.7,590.2 L347.1,597.4 L348.6,600.1 L350.0,604.5 L351.4,596.5 L352.9,592.0 L353.9,588.4 L355.4,597.4 L356.8,593.8 L358.3,601.9 L359.7,609.0 L361.1,612.6 L362.6,598.3 L363.6,605.4 L364.7,584.8 L366.2,592.9 L367.6,603.6 L369.0,600.1 L370.5,602.8 L371.9,597.4 L373.3,595.6 L374.8,582.1 L376.2,570.4 L377.7,574.0 L379.1,583.0 L380.5,564.1 L381.6,556.0 L382.7,570.4 L383.8,565.0 L384.8,573.1 L386.3,567.7 L388.1,565.0 L389.9,563.2 L391.7,562.3 L393.1,561.4 L394.5,575.8 L396.0,571.3 L397.4,570.4 L398.9,566.8 L400.0,577.6 L401.4,567.7 L402.9,576.7 L404.3,565.9 L405.8,573.1 L407.2,578.5 L408.6,569.5 L410.1,565.0 L411.5,564.1 L412.9,574.9 L414.4,588.4 L415.8,571.3 L417.2,558.7 L418.7,568.6 L420.1,562.3 L421.2,563.2 L422.3,577.6 L423.7,573.1 L425.1,577.6 L426.6,574.9 L427.7,582.1 L428.7,564.1 L429.8,574.9 L431.3,571.3 L432.7,568.6 L434.1,574.0 L435.6,581.2 L437.0,589.3 L438.4,598.3 L439.9,587.5 L441.3,592.9 L442.8,586.6 L444.2,588.4 L445.6,583.9 L447.1,582.1 L448.5,587.5 L449.9,592.0 L451.4,593.8 L452.8,588.4 L454.2,591.1 L455.7,572.2 L457.1,582.1 L458.6,573.1 L460.0,578.5 L461.1,573.1 L462.5,580.3 L463.9,583.0 L465.4,578.5 L466.8,580.3 L468.3,570.4 L469.7,566.8 L471.1,570.4 L472.2,582.1 L473.6,568.6 L475.1,574.0 L476.5,569.5 L478.0,559.6 L479.0,578.5 L480.5,574.9 L481.9,572.2 L483.4,583.0 L484.8,575.8 L486.2,584.8 L487.7,577.6 L489.1,580.3 L490.5,587.5 L492.0,593.8 L493.4,591.1 L494.8,592.9 L496.3,583.9 L497.7,575.8 L499.2,570.4 L500.6,565.0 L502.0,560.5 L503.5,557.8 L504.5,548.9 L506.0,549.8 L507.1,564.1 L508.5,559.6 L509.9,561.4 L511.4,573.1 L512.8,566.8 L514.2,570.4 L515.7,574.0 L517.1,579.4 L518.6,581.2 L520.0,586.6 L521.4,588.4 L522.9,578.5 L524.3,573.1 L525.7,567.7 L527.2,564.1 L528.3,565.9 L529.7,582.1 L531.1,600.1 L532.6,584.8 L534.0,574.9 L535.4,577.6 L536.9,589.3 L538.3,590.2 L539.8,601.0 L541.2,609.9 L542.6,603.6 L544.1,585.7 L545.5,584.8 L546.9,580.3 L548.0,564.1 L549.1,558.7 L550.2,570.4 L551.6,567.7 L553.0,568.6 L554.5,583.0 L555.9,576.7 L557.4,573.1 L558.8,574.9 L560.2,570.4 L561.7,582.1 L563.1,590.2 L564.5,574.0 L566.0,581.2 L567.4,592.0 L568.9,591.1 L570.0,591.1 L571.8,582.1 L573.2,576.7 L574.7,571.3 L576.1,564.1 L577.5,582.1 L579.0,581.2 L580.4,583.9 L581.9,573.1 L583.3,565.0 L584.7,568.6 L586.2,555.1 L587.2,556.9 L588.3,567.7 L589.8,567.7 L590.8,589.3 L591.6,601.9 L593.0,587.5 L594.4,577.6 L595.9,585.7 L597.3,578.5 L598.7,577.6 L600.2,575.8 L601.6,572.2 L603.0,574.9 L604.5,569.5 L605.9,572.2 L607.4,568.6 L608.8,564.1 L609.9,563.2 L611.3,574.9 L612.8,583.9 L614.2,588.4 L615.6,591.1 L617.1,576.7 L618.5,587.5 L619.9,594.7 L621.4,595.6 L622.8,583.0 L624.2,588.4 L625.7,589.3 L627.1,582.1 L628.6,587.5 L630.0,573.1 L631.4,570.4 L632.9,567.7 L634.3,574.0 L635.7,572.2 L637.2,575.8 L638.6,574.0 L640.1,583.0 L641.1,574.9 L642.2,596.5 L643.6,585.7 L645.1,580.3 L646.5,585.7 L648.0,583.9 L649.4,596.5 L650.8,592.0 L652.3,601.0 L653.7,586.6 L655.1,581.2 L656.6,576.7 L658.0,581.2 L659.1,570.4 L660.2,582.1 L661.6,576.7 L663.0,574.0 L664.5,578.5 L665.9,575.8 L667.4,583.9 L668.1,598.3 L669.2,583.0 L670.6,574.0 L671.7,601.9 L673.1,608.1 L674.5,606.3 L676.0,594.7 L677.4,583.9 L678.9,582.1 L680.3,575.8 L681.7,572.2 L683.2,573.1 L684.6,568.6 L686.0,567.7 L687.5,565.0 L688.6,580.3 L690.0,570.4 L691.4,573.1 L692.9,567.7 L694.3,565.0 L695.7,567.7 L696.8,576.7 L697.9,569.5 L699.3,570.4 L700.8,564.1 L702.2,560.5 L703.3,574.9 L704.0,595.6 L705.1,577.6 L706.5,575.8 L708.0,577.6 L709.4,583.0 L710.8,584.8 L712.3,583.9 L713.7,581.2 L714.8,589.3 L715.9,563.2 L716.9,578.5 L718.4,575.8 L719.8,573.1 L721.2,568.6 L722.7,567.7 L724.1,564.1 L725.6,560.5 L727.0,565.9 L728.4,564.1 L729.9,561.4 L731.3,559.6 L732.4,563.2 L733.5,576.7 L735.0,578.5 L736.8,583.0 L738.6,587.5 L740.4,591.1 L742.2,592.9 L744.3,604.5 L745.8,589.3 L747.2,582.1 L748.6,577.6 L750.1,578.5 L751.5,589.3 L753.0,597.4 L754.0,600.1 L755.5,583.9 L756.6,574.0 L758.0,585.7 L759.4,572.2 L760.9,563.2 L761.9,565.0 L763.4,578.5 L764.5,587.5 L765.9,579.4 L767.3,587.5 L768.8,580.3 L770.2,588.4 L771.6,601.0 L773.1,605.4 L774.5,587.5 L776.0,588.4 L777.4,587.5 L778.8,581.2 L780.3,579.4 L781.7,571.3 L782.8,565.9 L784.2,587.5 L785.3,604.5 L786.7,588.4 L788.2,580.3 L789.6,576.7 L791.0,574.0 L792.5,571.3 L793.9,567.7 L795.4,564.1 L796.8,560.5 L797.9,557.8 L799.3,567.7 L800.4,571.3 L801.8,565.9 L803.3,562.3 L804.7,558.7 L806.1,550.7 L807.2,549.8 L808.3,562.3 L809.7,563.2 L811.2,564.1 L812.6,577.6 L814.0,570.4 L815.1,564.1 L816.2,556.9 L817.3,561.4 L818.7,554.2 L819.8,551.6 L820.9,568.6 L822.3,563.2 L823.7,578.5 L825.2,572.2 L826.6,573.1 L828.0,574.0 L829.5,580.3 L830.6,586.6 L832.0,578.5 L833.4,581.2 L834.9,580.3 L836.0,571.3 L837.0,583.9 L838.5,596.5 L839.9,593.8 L841.3,601.0 L842.4,605.4 L843.9,601.9 L845.3,592.9 L846.4,597.4 L848.2,583.9 L849.2,598.3 L850.7,592.0 L852.1,589.3 L853.6,585.7 L855.0,592.9 L856.4,583.9 L857.9,578.5 L858.9,590.2 L860.4,574.9 L861.5,573.1 L862.9,583.9 L864.0,592.9 L865.4,587.5 L866.9,583.0 L868.3,583.9 L869.7,580.3 L871.2,585.7 L872.6,574.0 L873.7,591.1 L874.8,605.4 L875.8,614.4 L877.3,598.3 L878.7,596.5 L880.1,601.0 L881.6,605.4 L883.0,609.9 L884.5,609.9 L885.9,601.9 L887.3,594.7 L888.8,582.1 L890.2,576.7 L891.6,580.3 L893.1,570.4 L894.5,574.0 L896.0,578.5 L897.4,585.7 L898.5,573.1 L899.9,572.2 L901.3,568.6 L902.8,565.0 L903.9,565.9 L904.9,558.7 L906.0,556.9" stroke="#1c1ccc" stroke-width="1.65" fill="none" stroke-linejoin="round"/>
<rect x="72.5" y="502.4" width="10" height="10" fill="#0000cc" stroke="#000" stroke-width="1.5"/>
<text x="88" y="513" font-size="15.2" fill="#a0a0a0">RSI (14): 75.5</text>
<text x="911.7" y="533.2" font-size="15" fill="#a0a0a0">100</text>
<text x="911.7" y="569.1" font-size="15" fill="#ff5a5a">70</text>
<text x="911.7" y="593.0" font-size="15" fill="#a0a0a0">50</text>
<text x="911.7" y="616.7" font-size="15" fill="#5a5aff">30</text>
<text x="911.7" y="652.9" font-size="15" fill="#a0a0a0">0</text>
<text x="67.7" y="665.5" font-size="15" text-anchor="middle" fill="#a0a0a0">2021</text>
<text x="235.6" y="665.5" font-size="15" text-anchor="middle" fill="#a0a0a0">2022</text>
<text x="405.6" y="665.5" font-size="15" text-anchor="middle" fill="#a0a0a0">2023</text>
<text x="573.1" y="665.5" font-size="15" text-anchor="middle" fill="#a0a0a0">2024</text>
<text x="740.5" y="665.5" font-size="15" text-anchor="middle" fill="#a0a0a0">2025</text>
</svg>
</body></html>
